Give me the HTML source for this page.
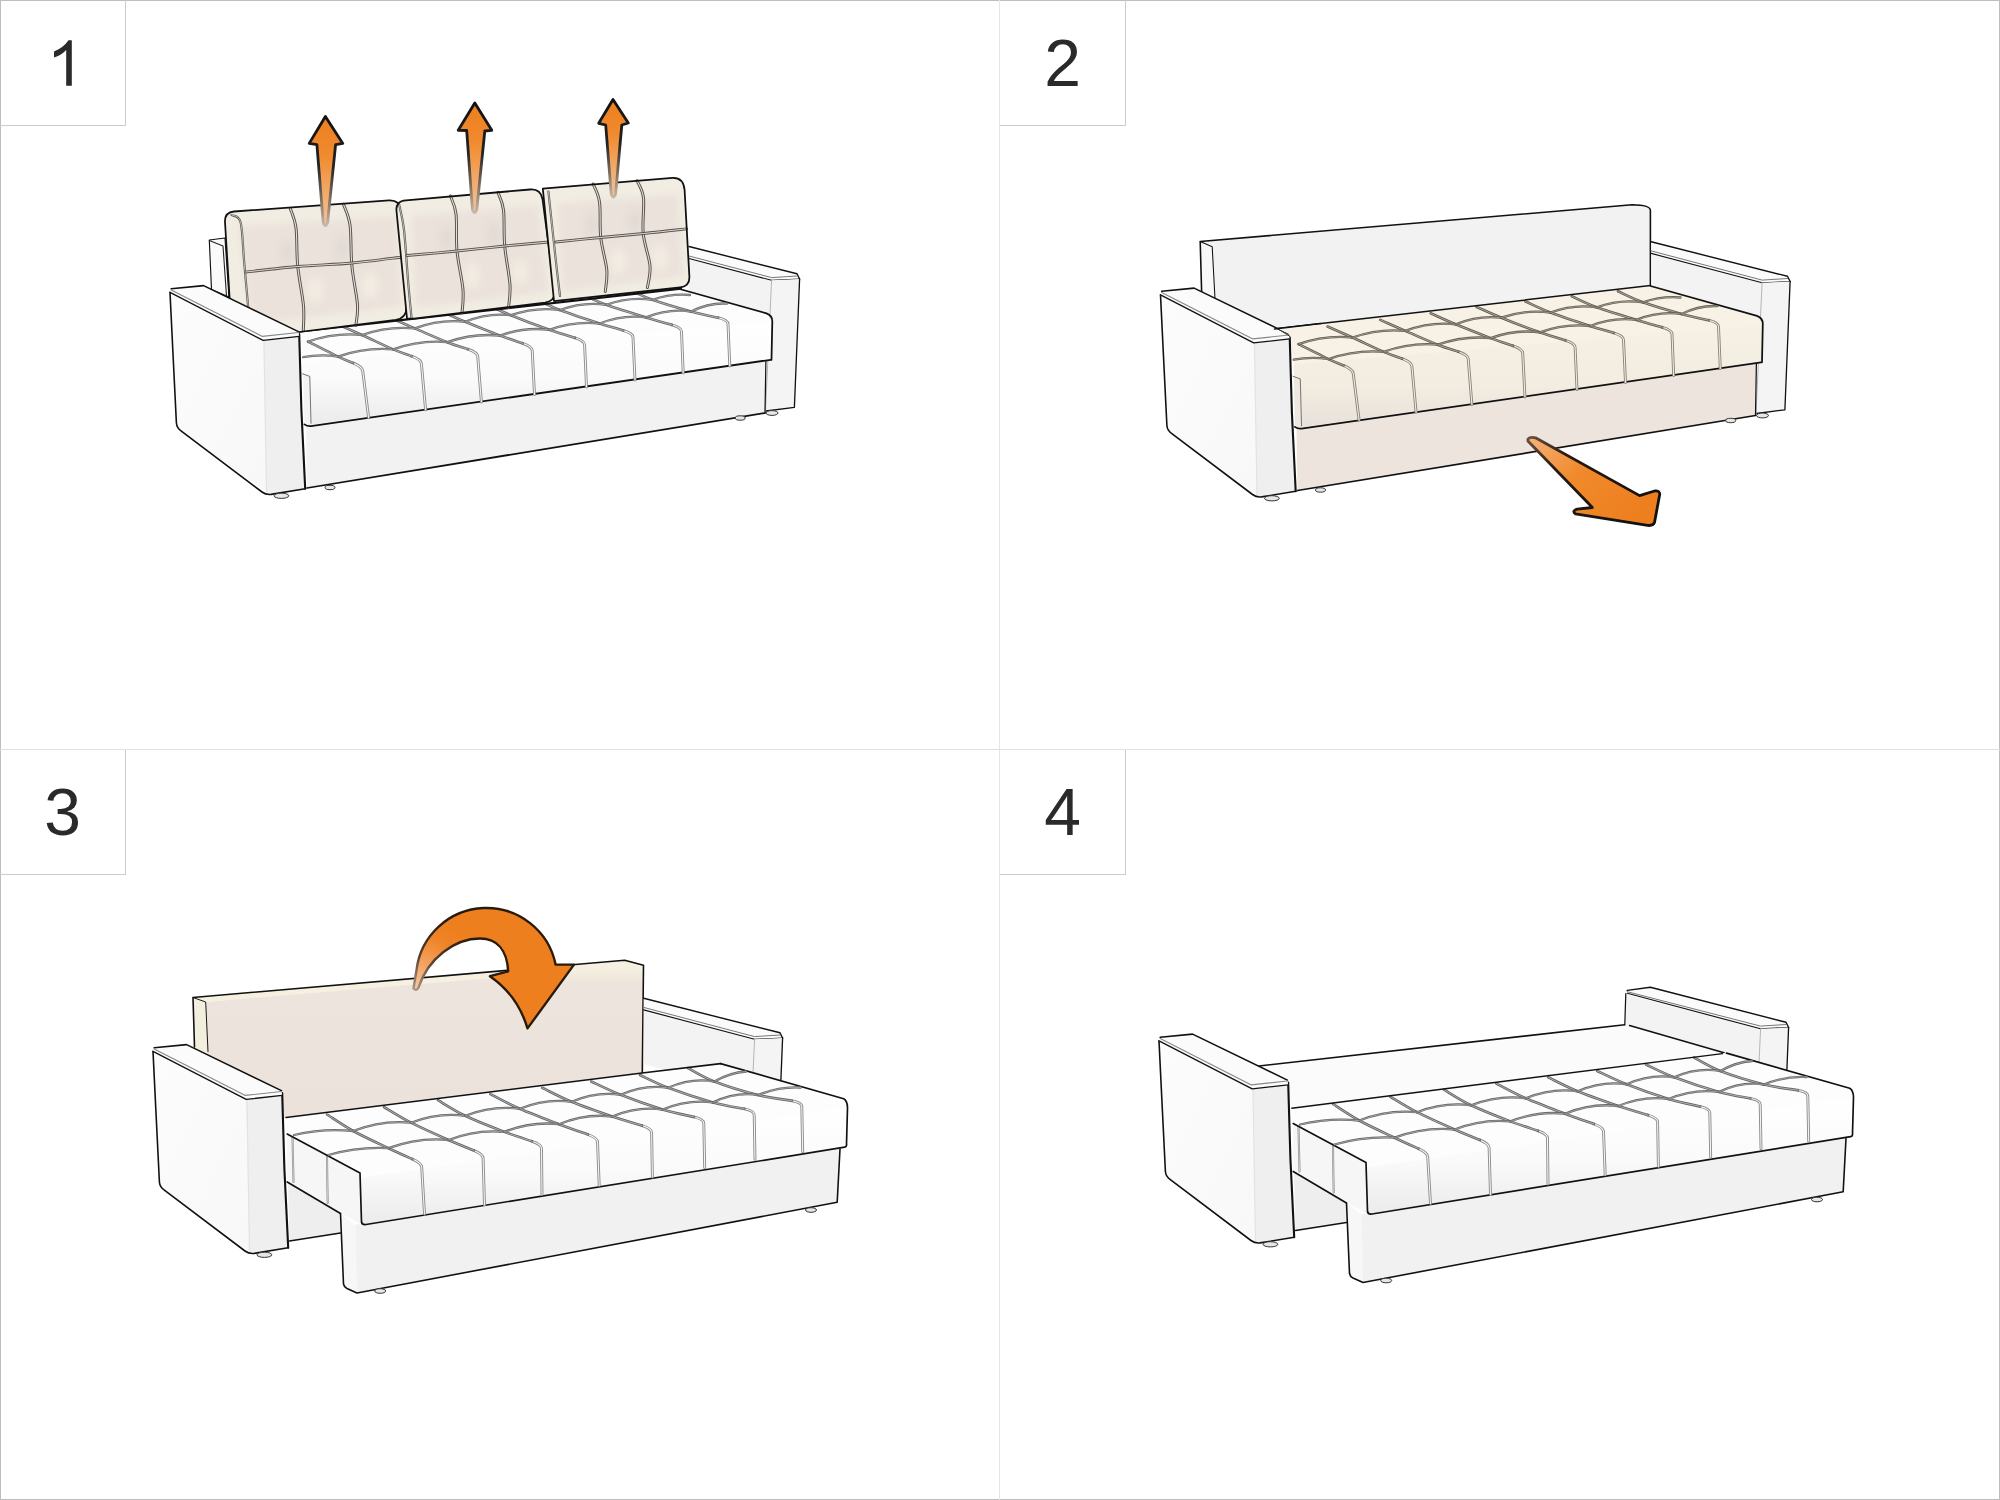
<!DOCTYPE html>
<html><head><meta charset="utf-8">
<style>
html,body{margin:0;padding:0;background:#fff;}
body{width:2000px;height:1500px;position:relative;overflow:hidden;font-family:"Liberation Sans",sans-serif;}
.num{position:absolute;width:125px;height:125px;font-size:66px;line-height:125px;text-align:center;color:#2a2a2a;}
svg{position:absolute;left:0;top:0;}
</style></head>
<body>
<svg width="2000" height="1500" viewBox="0 0 2000 1500">
<defs>
<linearGradient id="cush" x1="0" y1="0" x2="0" y2="1">
 <stop offset="0" stop-color="#f3f0e4"/><stop offset="0.2" stop-color="#f1ede2"/>
 <stop offset="0.3" stop-color="#ece4dd"/><stop offset="0.85" stop-color="#ebe3dc"/><stop offset="1" stop-color="#efe9df"/>
</linearGradient>
<filter id="blur3" x="-20%" y="-20%" width="140%" height="140%"><feGaussianBlur stdDeviation="3"/></filter>
<filter id="blur5" x="-50%" y="-50%" width="200%" height="200%"><feGaussianBlur stdDeviation="4"/></filter>
<linearGradient id="ga" x1="0" y1="0" x2="0" y2="1">
 <stop offset="0" stop-color="#ee7f1e"/><stop offset="0.35" stop-color="#f08a2e"/><stop offset="1" stop-color="#f6c49a"/>
</linearGradient>
<linearGradient id="gas" x1="0" y1="0" x2="0" y2="1">
 <stop offset="0" stop-color="#111"/><stop offset="0.45" stop-color="#222"/><stop offset="0.8" stop-color="#8a7a6a"/><stop offset="1" stop-color="#c8b8a8"/>
</linearGradient>
<linearGradient id="seatf" x1="0" y1="0" x2="0" y2="1">
 <stop offset="0" stop-color="#ffffff"/><stop offset="0.55" stop-color="#fafafa"/><stop offset="1" stop-color="#ebebeb"/>
</linearGradient>
<linearGradient id="seatc" x1="0" y1="0" x2="0" y2="1">
 <stop offset="0" stop-color="#f6f1e4"/><stop offset="0.6" stop-color="#f2ece1"/><stop offset="1" stop-color="#e8e1da"/>
</linearGradient>
<linearGradient id="backc" x1="0" y1="0" x2="0" y2="1">
 <stop offset="0" stop-color="#f7f3e0"/><stop offset="0.06" stop-color="#f4efe0"/><stop offset="0.14" stop-color="#ede5dd"/><stop offset="1" stop-color="#ebe2db"/>
</linearGradient>
<linearGradient id="armo" x1="0" y1="0" x2="1" y2="1">
 <stop offset="0" stop-color="#fcfcfc"/><stop offset="1" stop-color="#f8f8f8"/>
</linearGradient>
<linearGradient id="ga2" x1="0" y1="0" x2="1" y2="0.6">
 <stop offset="0" stop-color="#f4b27a"/><stop offset="0.45" stop-color="#f08a2c"/><stop offset="1" stop-color="#ee7f1e"/>
</linearGradient>
<linearGradient id="ga2s" x1="0" y1="0" x2="1" y2="0.6">
 <stop offset="0" stop-color="#6a5040"/><stop offset="0.3" stop-color="#2a1a10"/><stop offset="1" stop-color="#111"/>
</linearGradient>
<radialGradient id="ga3" gradientUnits="userSpaceOnUse" cx="414" cy="990" r="75">
 <stop offset="0" stop-color="#f6cba5"/><stop offset="0.35" stop-color="#f3a462"/><stop offset="0.75" stop-color="#ef8326"/><stop offset="1" stop-color="#ee7f1e"/>
</radialGradient>
<radialGradient id="ga3s" gradientUnits="userSpaceOnUse" cx="414" cy="990" r="75">
 <stop offset="0" stop-color="#b09888"/><stop offset="0.45" stop-color="#5a4030"/><stop offset="1" stop-color="#2a1a0a"/>
</radialGradient>
</defs>
<g fill="none" shape-rendering="crispEdges">
<rect x="0.5" y="0.5" width="1999" height="1499" stroke="#bdbdbd" stroke-width="1"/>
<line x1="999.5" y1="0" x2="999.5" y2="1500" stroke="#e6e6e6"/>
<line x1="0" y1="749.5" x2="2000" y2="749.5" stroke="#e0e0e0"/>
<path d="M125.5 0V125.5H0M1125.5 0V125.5H1000M125.5 750V874.5H0M1125.5 750V874.5H1000" stroke="#cccccc"/>
</g>
<polygon points="209.3,240.0 225.0,238.0 229.0,297.0 211.5,289.5" fill="#fafafa" stroke="#111" stroke-width="1.1440000000000001" stroke-linejoin="round" />
<path d="M209.3,240.5 L223.0,246.0 L226.5,296.0" fill="none" stroke="#222" stroke-width="1.1" stroke-linejoin="round" stroke-linecap="round" />
<polygon points="689.0,258.5 771.6,280.3 770.6,335.0 689.0,305.0" fill="#f3f3f3" />
<polygon points="689.0,246.5 797.0,273.8 799.6,279.0 771.6,280.3 689.0,258.5" fill="#fbfbfb" />
<path d="M689.0,246.5 L797.0,273.8 L799.6,279.0" fill="none" stroke="#111" stroke-width="1.4080000000000001" stroke-linejoin="round" stroke-linecap="round" />
<path d="M689.0,256.0 L771.6,277.6 L797.0,276.0" fill="none" stroke="#777" stroke-width="1.0" stroke-linejoin="round" stroke-linecap="round" />
<path d="M689.0,258.5 L771.6,280.3 L799.6,279.0" fill="none" stroke="#111" stroke-width="1.1440000000000001" stroke-linejoin="round" stroke-linecap="round" />
<polygon points="771.6,280.3 799.6,279.0 794.4,407.3 764.9,411.0" fill="#f4f4f4" />
<path d="M799.6,279.0 L794.4,407.3 L766.0,411.0" fill="none" stroke="#111" stroke-width="1.32" stroke-linejoin="round" stroke-linecap="round" />
<path d="M771.6,280.3 L765.5,411.0" fill="none" stroke="#b5b5b5" stroke-width="1.0" stroke-linejoin="round" stroke-linecap="round" />
<ellipse cx="772.0" cy="413.0" rx="6" ry="2.4" fill="#e6e6e6" stroke="#333" stroke-width="1"/>
<polygon points="306.0,425.6 765.9,360.8 765.0,413.0 307.0,488.0" fill="#f2f2f2" />
<path d="M307.0,488.0 L765.0,413.0" fill="none" stroke="#111" stroke-width="1.76" stroke-linejoin="round" stroke-linecap="round" />
<path d="M765.9,360.8 L765.0,413.0" fill="none" stroke="#111" stroke-width="1.232" stroke-linejoin="round" stroke-linecap="round" />
<ellipse cx="740.2" cy="418.0" rx="5" ry="2.2" fill="#e6e6e6" stroke="#333" stroke-width="1"/>
<ellipse cx="330.0" cy="487.5" rx="5" ry="2.2" fill="#e6e6e6" stroke="#333" stroke-width="1"/>
<polygon points="287.0,326.1 659.9,283.0 681.0,288.8 766.5,313.4 772.3,321.2 770.6,359.8 306.0,425.6 303.0,357.0 298.4,331.6" fill="#fdfdfd" />
<polygon points="303.0,362.0 771.5,322.0 770.6,359.8 306.0,425.6" fill="url(#seatf)" />
<polygon points="303.2,374.0 309.8,376.4 311.0,423.2 304.4,424.4" fill="#f3f3f3" />
<path d="M302.5,373.8 L309.8,376.4 L311.0,423.2" fill="none" stroke="#666" stroke-width="0.9" stroke-linejoin="round" stroke-linecap="round" />
<path d="M660.0,283.5 L766.5,313.4 Q772.3,315.5 772.3,321.2 L771.5,359.8" fill="none" stroke="#111" stroke-width="1.76" stroke-linejoin="round" stroke-linecap="round" />
<path d="M304.4,424.4 Q307.0,426.5 311.0,426.2 L770.6,359.8" fill="none" stroke="#111" stroke-width="1.76" stroke-linejoin="round" stroke-linecap="round" />
<path d="M353.0,362.9 Q362.2,366.8 362.7,370.8 L368.6,417.5" fill="none" stroke="#8c8c8c" stroke-width="2.9" stroke-linejoin="round" stroke-linecap="round" /><path d="M353.0,362.9 Q362.2,366.8 362.7,370.8 L368.6,417.5" fill="none" stroke="#f7f7f7" stroke-width="1.044" stroke-linejoin="round" stroke-linecap="round" /><path d="M308.0,341.6 C313.0,344.1 330.5,353.0 338.0,356.6 C345.5,360.2 350.5,361.9 353.0,362.9" fill="none" stroke="#676767" stroke-width="2.61" stroke-linejoin="round" stroke-linecap="round" /><path d="M308.0,341.6 C313.0,344.1 330.5,353.0 338.0,356.6 C345.5,360.2 350.5,361.9 353.0,362.9" fill="none" stroke="#f7f7f7" stroke-width="0.522" stroke-linejoin="round" stroke-linecap="round" />
<path d="M411.6,356.2 Q421.0,359.6 421.4,363.6 L425.6,409.8" fill="none" stroke="#8c8c8c" stroke-width="2.9" stroke-linejoin="round" stroke-linecap="round" /><path d="M411.6,356.2 Q421.0,359.6 421.4,363.6 L425.6,409.8" fill="none" stroke="#f7f7f7" stroke-width="1.044" stroke-linejoin="round" stroke-linecap="round" /><path d="M337.0,324.0 C341.2,325.8 352.6,330.8 362.0,335.0 C371.4,339.2 384.9,345.9 393.2,349.4 C401.5,352.9 408.5,355.0 411.6,356.2" fill="none" stroke="#676767" stroke-width="2.61" stroke-linejoin="round" stroke-linecap="round" /><path d="M337.0,324.0 C341.2,325.8 352.6,330.8 362.0,335.0 C371.4,339.2 384.9,345.9 393.2,349.4 C401.5,352.9 408.5,355.0 411.6,356.2" fill="none" stroke="#f7f7f7" stroke-width="0.522" stroke-linejoin="round" stroke-linecap="round" />
<path d="M467.9,349.2 Q477.4,352.4 477.7,356.4 L481.4,402.0" fill="none" stroke="#8c8c8c" stroke-width="2.9" stroke-linejoin="round" stroke-linecap="round" /><path d="M467.9,349.2 Q477.4,352.4 477.7,356.4 L481.4,402.0" fill="none" stroke="#f7f7f7" stroke-width="1.044" stroke-linejoin="round" stroke-linecap="round" /><path d="M389.8,317.4 C394.0,319.2 405.2,324.3 414.8,328.4 C424.4,332.5 438.3,338.7 447.2,342.2 C456.1,345.7 464.5,348.0 467.9,349.2" fill="none" stroke="#676767" stroke-width="2.61" stroke-linejoin="round" stroke-linecap="round" /><path d="M389.8,317.4 C394.0,319.2 405.2,324.3 414.8,328.4 C424.4,332.5 438.3,338.7 447.2,342.2 C456.1,345.7 464.5,348.0 467.9,349.2" fill="none" stroke="#f7f7f7" stroke-width="0.522" stroke-linejoin="round" stroke-linecap="round" />
<path d="M522.5,343.3 Q532.0,346.5 532.2,350.5 L534.5,394.5" fill="none" stroke="#8c8c8c" stroke-width="2.9" stroke-linejoin="round" stroke-linecap="round" /><path d="M522.5,343.3 Q532.0,346.5 532.2,350.5 L534.5,394.5" fill="none" stroke="#f7f7f7" stroke-width="1.044" stroke-linejoin="round" stroke-linecap="round" /><path d="M440.2,310.8 C444.4,312.6 455.2,317.7 465.2,321.8 C475.2,325.9 490.4,332.0 500.0,335.6 C509.6,339.2 518.8,342.0 522.5,343.3" fill="none" stroke="#676767" stroke-width="2.61" stroke-linejoin="round" stroke-linecap="round" /><path d="M440.2,310.8 C444.4,312.6 455.2,317.7 465.2,321.8 C475.2,325.9 490.4,332.0 500.0,335.6 C509.6,339.2 518.8,342.0 522.5,343.3" fill="none" stroke="#f7f7f7" stroke-width="0.522" stroke-linejoin="round" stroke-linecap="round" />
<path d="M574.9,337.8 Q584.4,340.8 584.6,344.8 L586.5,387.0" fill="none" stroke="#8c8c8c" stroke-width="2.9" stroke-linejoin="round" stroke-linecap="round" /><path d="M574.9,337.8 Q584.4,340.8 584.6,344.8 L586.5,387.0" fill="none" stroke="#f7f7f7" stroke-width="1.044" stroke-linejoin="round" stroke-linecap="round" /><path d="M485.8,304.2 C490.0,306.0 500.2,310.9 510.8,315.2 C521.4,319.5 538.6,326.0 549.3,329.8 C560.0,333.6 570.6,336.5 574.9,337.8" fill="none" stroke="#676767" stroke-width="2.61" stroke-linejoin="round" stroke-linecap="round" /><path d="M485.8,304.2 C490.0,306.0 500.2,310.9 510.8,315.2 C521.4,319.5 538.6,326.0 549.3,329.8 C560.0,333.6 570.6,336.5 574.9,337.8" fill="none" stroke="#f7f7f7" stroke-width="0.522" stroke-linejoin="round" stroke-linecap="round" />
<path d="M623.2,330.4 Q632.8,333.2 633.0,337.2 L635.0,380.0" fill="none" stroke="#8c8c8c" stroke-width="2.9" stroke-linejoin="round" stroke-linecap="round" /><path d="M623.2,330.4 Q632.8,333.2 633.0,337.2 L635.0,380.0" fill="none" stroke="#f7f7f7" stroke-width="1.044" stroke-linejoin="round" stroke-linecap="round" /><path d="M535.0,299.0 C539.2,300.8 549.2,305.9 560.0,310.0 C570.8,314.1 589.1,320.1 599.6,323.5 C610.1,326.9 619.3,329.2 623.2,330.4" fill="none" stroke="#676767" stroke-width="2.61" stroke-linejoin="round" stroke-linecap="round" /><path d="M535.0,299.0 C539.2,300.8 549.2,305.9 560.0,310.0 C570.8,314.1 589.1,320.1 599.6,323.5 C610.1,326.9 619.3,329.2 623.2,330.4" fill="none" stroke="#f7f7f7" stroke-width="0.522" stroke-linejoin="round" stroke-linecap="round" />
<path d="M671.7,324.8 Q681.3,327.5 681.5,331.5 L683.2,373.0" fill="none" stroke="#8c8c8c" stroke-width="2.9" stroke-linejoin="round" stroke-linecap="round" /><path d="M671.7,324.8 Q681.3,327.5 681.5,331.5 L683.2,373.0" fill="none" stroke="#f7f7f7" stroke-width="1.044" stroke-linejoin="round" stroke-linecap="round" /><path d="M581.2,293.8 C585.4,295.6 595.4,300.9 606.2,304.8 C617.0,308.7 634.9,314.1 645.8,317.4 C656.7,320.7 667.4,323.5 671.7,324.8" fill="none" stroke="#676767" stroke-width="2.61" stroke-linejoin="round" stroke-linecap="round" /><path d="M581.2,293.8 C585.4,295.6 595.4,300.9 606.2,304.8 C617.0,308.7 634.9,314.1 645.8,317.4 C656.7,320.7 667.4,323.5 671.7,324.8" fill="none" stroke="#f7f7f7" stroke-width="0.522" stroke-linejoin="round" stroke-linecap="round" />
<path d="M718.1,317.7 Q727.8,320.0 728.0,324.0 L729.8,366.0" fill="none" stroke="#8c8c8c" stroke-width="2.9" stroke-linejoin="round" stroke-linecap="round" /><path d="M718.1,317.7 Q727.8,320.0 728.0,324.0 L729.8,366.0" fill="none" stroke="#f7f7f7" stroke-width="1.044" stroke-linejoin="round" stroke-linecap="round" /><path d="M627.4,288.8 C631.6,290.6 641.8,296.0 652.4,299.8 C663.0,303.6 680.1,308.5 691.0,311.5 C701.9,314.5 713.5,316.7 718.1,317.7" fill="none" stroke="#676767" stroke-width="2.61" stroke-linejoin="round" stroke-linecap="round" /><path d="M627.4,288.8 C631.6,290.6 641.8,296.0 652.4,299.8 C663.0,303.6 680.1,308.5 691.0,311.5 C701.9,314.5 713.5,316.7 718.1,317.7" fill="none" stroke="#f7f7f7" stroke-width="0.522" stroke-linejoin="round" stroke-linecap="round" />
<path d="M338.0,356.6 Q365.6,347.0 393.2,349.4" fill="none" stroke="#676767" stroke-width="2.3" stroke-linejoin="round" stroke-linecap="round" /><path d="M338.0,356.6 Q365.6,347.0 393.2,349.4" fill="none" stroke="#f7f7f7" stroke-width="0.414" stroke-linejoin="round" stroke-linecap="round" />
<path d="M308.0,341.6 Q335.0,332.3 362.0,335.0" fill="none" stroke="#676767" stroke-width="2.3" stroke-linejoin="round" stroke-linecap="round" /><path d="M308.0,341.6 Q335.0,332.3 362.0,335.0" fill="none" stroke="#f7f7f7" stroke-width="0.414" stroke-linejoin="round" stroke-linecap="round" />
<path d="M393.2,349.4 Q420.2,339.8 447.2,342.2" fill="none" stroke="#676767" stroke-width="2.3" stroke-linejoin="round" stroke-linecap="round" /><path d="M393.2,349.4 Q420.2,339.8 447.2,342.2" fill="none" stroke="#f7f7f7" stroke-width="0.414" stroke-linejoin="round" stroke-linecap="round" />
<path d="M362.0,335.0 Q388.4,325.7 414.8,328.4" fill="none" stroke="#676767" stroke-width="2.3" stroke-linejoin="round" stroke-linecap="round" /><path d="M362.0,335.0 Q388.4,325.7 414.8,328.4" fill="none" stroke="#f7f7f7" stroke-width="0.414" stroke-linejoin="round" stroke-linecap="round" />
<path d="M447.2,342.2 Q473.6,332.9 500.0,335.6" fill="none" stroke="#676767" stroke-width="2.3" stroke-linejoin="round" stroke-linecap="round" /><path d="M447.2,342.2 Q473.6,332.9 500.0,335.6" fill="none" stroke="#f7f7f7" stroke-width="0.414" stroke-linejoin="round" stroke-linecap="round" />
<path d="M414.8,328.4 Q440.0,319.1 465.2,321.8" fill="none" stroke="#676767" stroke-width="2.3" stroke-linejoin="round" stroke-linecap="round" /><path d="M414.8,328.4 Q440.0,319.1 465.2,321.8" fill="none" stroke="#f7f7f7" stroke-width="0.414" stroke-linejoin="round" stroke-linecap="round" />
<path d="M500.0,335.6 Q524.6,326.7 549.3,329.8" fill="none" stroke="#676767" stroke-width="2.3" stroke-linejoin="round" stroke-linecap="round" /><path d="M500.0,335.6 Q524.6,326.7 549.3,329.8" fill="none" stroke="#f7f7f7" stroke-width="0.414" stroke-linejoin="round" stroke-linecap="round" />
<path d="M465.2,321.8 Q488.0,312.5 510.8,315.2" fill="none" stroke="#676767" stroke-width="2.3" stroke-linejoin="round" stroke-linecap="round" /><path d="M465.2,321.8 Q488.0,312.5 510.8,315.2" fill="none" stroke="#f7f7f7" stroke-width="0.414" stroke-linejoin="round" stroke-linecap="round" />
<path d="M549.3,329.8 Q574.5,320.6 599.6,323.5" fill="none" stroke="#676767" stroke-width="2.3" stroke-linejoin="round" stroke-linecap="round" /><path d="M549.3,329.8 Q574.5,320.6 599.6,323.5" fill="none" stroke="#f7f7f7" stroke-width="0.414" stroke-linejoin="round" stroke-linecap="round" />
<path d="M510.8,315.2 Q535.4,306.6 560.0,310.0" fill="none" stroke="#676767" stroke-width="2.3" stroke-linejoin="round" stroke-linecap="round" /><path d="M510.8,315.2 Q535.4,306.6 560.0,310.0" fill="none" stroke="#f7f7f7" stroke-width="0.414" stroke-linejoin="round" stroke-linecap="round" />
<path d="M599.6,323.5 Q622.7,314.4 645.8,317.4" fill="none" stroke="#676767" stroke-width="2.3" stroke-linejoin="round" stroke-linecap="round" /><path d="M599.6,323.5 Q622.7,314.4 645.8,317.4" fill="none" stroke="#f7f7f7" stroke-width="0.414" stroke-linejoin="round" stroke-linecap="round" />
<path d="M560.0,310.0 Q583.1,301.4 606.2,304.8" fill="none" stroke="#676767" stroke-width="2.3" stroke-linejoin="round" stroke-linecap="round" /><path d="M560.0,310.0 Q583.1,301.4 606.2,304.8" fill="none" stroke="#f7f7f7" stroke-width="0.414" stroke-linejoin="round" stroke-linecap="round" />
<path d="M645.8,317.4 Q668.4,308.4 691.0,311.5" fill="none" stroke="#676767" stroke-width="2.3" stroke-linejoin="round" stroke-linecap="round" /><path d="M645.8,317.4 Q668.4,308.4 691.0,311.5" fill="none" stroke="#f7f7f7" stroke-width="0.414" stroke-linejoin="round" stroke-linecap="round" />
<path d="M606.2,304.8 Q629.3,296.3 652.4,299.8" fill="none" stroke="#676767" stroke-width="2.3" stroke-linejoin="round" stroke-linecap="round" /><path d="M606.2,304.8 Q629.3,296.3 652.4,299.8" fill="none" stroke="#f7f7f7" stroke-width="0.414" stroke-linejoin="round" stroke-linecap="round" />
<path d="M303.2,357.2 Q320.6,353.9 338.0,356.6" fill="none" stroke="#676767" stroke-width="2.3" stroke-linejoin="round" stroke-linecap="round" /><path d="M303.2,357.2 Q320.6,353.9 338.0,356.6" fill="none" stroke="#f7f7f7" stroke-width="0.414" stroke-linejoin="round" stroke-linecap="round" />
<path d="M691.0,311.5 Q709.0,302.6 727.0,303.6" fill="none" stroke="#676767" stroke-width="2.3" stroke-linejoin="round" stroke-linecap="round" /><path d="M691.0,311.5 Q709.0,302.6 727.0,303.6" fill="none" stroke="#f7f7f7" stroke-width="0.414" stroke-linejoin="round" stroke-linecap="round" />
<path d="M652.4,299.8 Q671.2,293.4 690.0,295.0" fill="none" stroke="#676767" stroke-width="2.3" stroke-linejoin="round" stroke-linecap="round" /><path d="M652.4,299.8 Q671.2,293.4 690.0,295.0" fill="none" stroke="#f7f7f7" stroke-width="0.414" stroke-linejoin="round" stroke-linecap="round" />
<path d="M298.4,331.6 L681.0,288.8" fill="none" stroke="#111" stroke-width="2.112" stroke-linejoin="round" stroke-linecap="round" />
<clipPath id="clip_140352756517152"><path d="M229.6,298 L225,222 Q224.5,212.5 234,211.5 L389,200.3 Q399.5,199.8 401,210 L406.5,306 Q407,318 396,319.8 L299,332 L262,337 Z"/></clipPath>
<path d="M229.6,298 L225,222 Q224.5,212.5 234,211.5 L389,200.3 Q399.5,199.8 401,210 L406.5,306 Q407,318 396,319.8 L299,332 L262,337 Z" fill="#f1ede2" />
<g clip-path="url(#clip_140352756517152)">
<polygon points="238.0,227.0 397.0,216.0 401.0,306.0 252.0,324.0" fill="#ebe2dc" filter="url(#blur3)"/>
<ellipse cx="288" cy="252" rx="7" ry="12" fill="#d8d0cb" opacity="0.45" filter="url(#blur5)"/>
<ellipse cx="342" cy="248" rx="7" ry="12" fill="#d8d0cb" opacity="0.45" filter="url(#blur5)"/>
<ellipse cx="315" cy="290" rx="9" ry="14" fill="#f4f0e3" opacity="0.7" filter="url(#blur5)"/>
<ellipse cx="370" cy="286" rx="9" ry="14" fill="#f4f0e3" opacity="0.7" filter="url(#blur5)"/>
</g>
<path d="M231.5,215.0 C233.0,216.2 238.4,214.5 240.5,222.0 C242.6,229.5 242.8,246.2 244.0,260.0 C245.2,273.8 247.0,294.7 248.0,305.0 C249.0,315.3 249.7,319.2 250.0,322.0" fill="none" stroke="#555" stroke-width="2.2" stroke-linejoin="round" stroke-linecap="round" /><path d="M231.5,215.0 C233.0,216.2 238.4,214.5 240.5,222.0 C242.6,229.5 242.8,246.2 244.0,260.0 C245.2,273.8 247.0,294.7 248.0,305.0 C249.0,315.3 249.7,319.2 250.0,322.0" fill="none" stroke="#efe8dd" stroke-width="0.66" stroke-linejoin="round" stroke-linecap="round" />
<path d="M290.3,208.5 C291.2,211.8 294.8,218.4 296.0,228.0 C297.2,237.6 296.4,252.9 297.7,265.9 C298.9,278.9 302.6,295.2 303.5,306.0 C304.4,316.8 303.3,326.4 303.3,330.5" fill="none" stroke="#585450" stroke-width="3.0" stroke-linejoin="round" stroke-linecap="round" /><path d="M290.3,208.5 C291.2,211.8 294.8,218.4 296.0,228.0 C297.2,237.6 296.4,252.9 297.7,265.9 C298.9,278.9 302.6,295.2 303.5,306.0 C304.4,316.8 303.3,326.4 303.3,330.5" fill="none" stroke="#e9e2da" stroke-width="1.02" stroke-linejoin="round" stroke-linecap="round" />
<path d="M343.5,204.3 C344.6,207.8 348.6,214.7 350.0,225.0 C351.4,235.3 350.6,252.6 351.9,265.9 C353.1,279.2 356.9,295.1 357.5,305.0 C358.1,314.9 356.1,322.1 355.8,325.5" fill="none" stroke="#585450" stroke-width="3.0" stroke-linejoin="round" stroke-linecap="round" /><path d="M343.5,204.3 C344.6,207.8 348.6,214.7 350.0,225.0 C351.4,235.3 350.6,252.6 351.9,265.9 C353.1,279.2 356.9,295.1 357.5,305.0 C358.1,314.9 356.1,322.1 355.8,325.5" fill="none" stroke="#e9e2da" stroke-width="1.02" stroke-linejoin="round" stroke-linecap="round" />
<path d="M245.7,272.0 C254.4,271.1 280.0,268.0 297.7,266.5 C315.4,265.0 334.4,264.6 351.9,263.0 C369.4,261.4 394.1,258.0 402.5,257.0" fill="none" stroke="#585450" stroke-width="2.8" stroke-linejoin="round" stroke-linecap="round" /><path d="M245.7,272.0 C254.4,271.1 280.0,268.0 297.7,266.5 C315.4,265.0 334.4,264.6 351.9,263.0 C369.4,261.4 394.1,258.0 402.5,257.0" fill="none" stroke="#e9e2da" stroke-width="0.952" stroke-linejoin="round" stroke-linecap="round" />
<path d="M229.6,298 L225,222 Q224.5,212.5 234,211.5 L389,200.3 Q399.5,199.8 401,210 L406.5,306 Q407,318 396,319.8 L299,332 L262,337 Z" fill="none" stroke="#111" stroke-width="1.76" stroke-linejoin="round" stroke-linecap="round" />
<clipPath id="clip_140352748804720"><path d="M407,318.5 L396.5,211 Q395.5,201 406,200.3 L530,189.5 Q540.5,188.6 542.5,199 L554.5,290 Q556,301 545,302.6 L414,318.6 Z"/></clipPath>
<path d="M407,318.5 L396.5,211 Q395.5,201 406,200.3 L530,189.5 Q540.5,188.6 542.5,199 L554.5,290 Q556,301 545,302.6 L414,318.6 Z" fill="#f1ede2" />
<g clip-path="url(#clip_140352748804720)">
<polygon points="411.0,216.0 538.0,205.0 549.0,292.0 416.0,308.0" fill="#ebe2dc" filter="url(#blur3)"/>
<ellipse cx="447" cy="238" rx="7" ry="12" fill="#d8d0cb" opacity="0.45" filter="url(#blur5)"/>
<ellipse cx="494" cy="234" rx="7" ry="12" fill="#d8d0cb" opacity="0.45" filter="url(#blur5)"/>
<ellipse cx="472" cy="276" rx="9" ry="14" fill="#f4f0e3" opacity="0.7" filter="url(#blur5)"/>
<ellipse cx="520" cy="272" rx="9" ry="14" fill="#f4f0e3" opacity="0.7" filter="url(#blur5)"/>
</g>
<path d="M399.0,204.0 C399.8,208.3 402.5,217.3 404.0,230.0 C405.5,242.7 406.8,265.4 408.0,280.0 C409.2,294.6 410.9,311.4 411.5,317.7" fill="none" stroke="#555" stroke-width="2.2" stroke-linejoin="round" stroke-linecap="round" /><path d="M399.0,204.0 C399.8,208.3 402.5,217.3 404.0,230.0 C405.5,242.7 406.8,265.4 408.0,280.0 C409.2,294.6 410.9,311.4 411.5,317.7" fill="none" stroke="#efe8dd" stroke-width="0.66" stroke-linejoin="round" stroke-linecap="round" />
<path d="M450.5,196.0 C451.4,199.0 454.9,204.8 456.0,214.0 C457.1,223.2 455.8,238.3 457.0,251.0 C458.2,263.7 462.2,279.7 463.0,290.0 C463.8,300.3 462.2,309.2 462.0,313.0" fill="none" stroke="#585450" stroke-width="3.0" stroke-linejoin="round" stroke-linecap="round" /><path d="M450.5,196.0 C451.4,199.0 454.9,204.8 456.0,214.0 C457.1,223.2 455.8,238.3 457.0,251.0 C458.2,263.7 462.2,279.7 463.0,290.0 C463.8,300.3 462.2,309.2 462.0,313.0" fill="none" stroke="#e9e2da" stroke-width="1.02" stroke-linejoin="round" stroke-linecap="round" />
<path d="M498.0,192.5 C498.9,195.4 502.4,201.1 503.5,210.0 C504.6,218.9 503.6,233.5 504.7,246.0 C505.8,258.5 509.4,274.8 510.0,285.0 C510.6,295.2 508.8,303.8 508.5,307.5" fill="none" stroke="#585450" stroke-width="3.0" stroke-linejoin="round" stroke-linecap="round" /><path d="M498.0,192.5 C498.9,195.4 502.4,201.1 503.5,210.0 C504.6,218.9 503.6,233.5 504.7,246.0 C505.8,258.5 509.4,274.8 510.0,285.0 C510.6,295.2 508.8,303.8 508.5,307.5" fill="none" stroke="#e9e2da" stroke-width="1.02" stroke-linejoin="round" stroke-linecap="round" />
<path d="M407.0,255.5 C415.3,254.8 440.7,252.6 457.0,251.0 C473.3,249.4 488.8,247.6 504.7,246.0 C520.6,244.4 544.6,242.4 552.6,241.7" fill="none" stroke="#585450" stroke-width="2.8" stroke-linejoin="round" stroke-linecap="round" /><path d="M407.0,255.5 C415.3,254.8 440.7,252.6 457.0,251.0 C473.3,249.4 488.8,247.6 504.7,246.0 C520.6,244.4 544.6,242.4 552.6,241.7" fill="none" stroke="#e9e2da" stroke-width="0.952" stroke-linejoin="round" stroke-linecap="round" />
<path d="M407,318.5 L396.5,211 Q395.5,201 406,200.3 L530,189.5 Q540.5,188.6 542.5,199 L554.5,290 Q556,301 545,302.6 L414,318.6 Z" fill="none" stroke="#111" stroke-width="1.76" stroke-linejoin="round" stroke-linecap="round" />
<clipPath id="clip_140352750114624"><path d="M554,301 L542.8,188.7 L672.6,177.9 Q683.5,177.5 684.6,190 L689.4,277.4 Q689.5,286.5 680,287.5 Z"/></clipPath>
<path d="M554,301 L542.8,188.7 L672.6,177.9 Q683.5,177.5 684.6,190 L689.4,277.4 Q689.5,286.5 680,287.5 Z" fill="#f1ede2" />
<g clip-path="url(#clip_140352750114624)">
<polygon points="557.0,204.0 678.0,194.0 683.0,276.0 563.0,291.0" fill="#ebe2dc" filter="url(#blur3)"/>
<ellipse cx="592" cy="225" rx="7" ry="12" fill="#d8d0cb" opacity="0.45" filter="url(#blur5)"/>
<ellipse cx="635" cy="221" rx="7" ry="12" fill="#d8d0cb" opacity="0.45" filter="url(#blur5)"/>
<ellipse cx="618" cy="262" rx="9" ry="14" fill="#f4f0e3" opacity="0.7" filter="url(#blur5)"/>
<ellipse cx="660" cy="258" rx="9" ry="14" fill="#f4f0e3" opacity="0.7" filter="url(#blur5)"/>
</g>
<path d="M548.4,191.5 C549.0,197.1 550.7,213.2 552.0,225.0 C553.3,236.8 554.7,250.2 556.0,262.0 C557.3,273.8 559.3,290.3 560.0,296.0" fill="none" stroke="#555" stroke-width="2.2" stroke-linejoin="round" stroke-linecap="round" /><path d="M548.4,191.5 C549.0,197.1 550.7,213.2 552.0,225.0 C553.3,236.8 554.7,250.2 556.0,262.0 C557.3,273.8 559.3,290.3 560.0,296.0" fill="none" stroke="#efe8dd" stroke-width="0.66" stroke-linejoin="round" stroke-linecap="round" />
<path d="M593.2,184.0 C594.2,187.0 598.2,193.1 599.5,202.0 C600.8,210.9 599.5,225.9 600.7,237.2 C601.9,248.5 606.0,261.0 606.8,270.0 C607.6,279.0 605.5,287.8 605.3,291.4" fill="none" stroke="#585450" stroke-width="3.0" stroke-linejoin="round" stroke-linecap="round" /><path d="M593.2,184.0 C594.2,187.0 598.2,193.1 599.5,202.0 C600.8,210.9 599.5,225.9 600.7,237.2 C601.9,248.5 606.0,261.0 606.8,270.0 C607.6,279.0 605.5,287.8 605.3,291.4" fill="none" stroke="#e9e2da" stroke-width="1.02" stroke-linejoin="round" stroke-linecap="round" />
<path d="M637.1,180.7 C638.2,183.6 642.5,189.2 643.5,198.0 C644.5,206.8 642.1,222.2 643.2,233.5 C644.3,244.8 649.3,257.0 650.0,266.0 C650.7,275.0 647.8,284.0 647.4,287.6" fill="none" stroke="#585450" stroke-width="3.0" stroke-linejoin="round" stroke-linecap="round" /><path d="M637.1,180.7 C638.2,183.6 642.5,189.2 643.5,198.0 C644.5,206.8 642.1,222.2 643.2,233.5 C644.3,244.8 649.3,257.0 650.0,266.0 C650.7,275.0 647.8,284.0 647.4,287.6" fill="none" stroke="#e9e2da" stroke-width="1.02" stroke-linejoin="round" stroke-linecap="round" />
<path d="M556.0,242.0 C563.5,241.2 586.1,238.9 600.7,237.5 C615.3,236.1 629.2,234.9 643.5,233.5 C657.8,232.1 679.4,229.6 686.6,228.8" fill="none" stroke="#585450" stroke-width="2.8" stroke-linejoin="round" stroke-linecap="round" /><path d="M556.0,242.0 C563.5,241.2 586.1,238.9 600.7,237.5 C615.3,236.1 629.2,234.9 643.5,233.5 C657.8,232.1 679.4,229.6 686.6,228.8" fill="none" stroke="#e9e2da" stroke-width="0.952" stroke-linejoin="round" stroke-linecap="round" />
<path d="M554,301 L542.8,188.7 L672.6,177.9 Q683.5,177.5 684.6,190 L689.4,277.4 Q689.5,286.5 680,287.5 Z" fill="none" stroke="#111" stroke-width="1.76" stroke-linejoin="round" stroke-linecap="round" />
<polygon points="170.0,292.4 263.2,340.4 267.0,493.0 176.4,427.2" fill="url(#armo)" />
<polygon points="263.2,340.4 299.2,336.4 305.2,488.8 266.0,494.4" fill="#efefef" />
<path d="M264.0,341.0 L266.5,492.0" fill="none" stroke="#e2e2e2" stroke-width="1.0" stroke-linejoin="round" stroke-linecap="round" />
<path d="M170.0,292.4 L172.8,350.0 L176.4,423.0 Q176.8,428.0 181.0,430.8 L262.0,492.0 Q266.0,495.0 271.0,494.4 L305.2,488.8" fill="none" stroke="#111" stroke-width="1.584" stroke-linejoin="round" stroke-linecap="round" />
<path d="M299.2,334.0 L301.4,410.0 L305.2,488.8" fill="none" stroke="#111" stroke-width="2.112" stroke-linejoin="round" stroke-linecap="round" />
<polygon points="171.2,288.8 203.6,285.6 298.4,331.6 299.2,336.4 263.2,340.4 170.0,292.4" fill="#fbfbfb" />
<path d="M171.2,288.8 L203.6,285.6 L298.4,331.6" fill="none" stroke="#111" stroke-width="1.584" stroke-linejoin="round" stroke-linecap="round" />
<path d="M171.2,290.0 L262.4,336.4 L298.4,332.5" fill="none" stroke="#888" stroke-width="1.1" stroke-linejoin="round" stroke-linecap="round" />
<path d="M170.0,292.4 L263.2,340.4 L299.2,336.4" fill="none" stroke="#111" stroke-width="1.32" stroke-linejoin="round" stroke-linecap="round" />
<ellipse cx="281.4" cy="495.8" rx="7.4" ry="2.6" fill="#e6e6e6" stroke="#333" stroke-width="1"/>
<path d="M325.4,116.5 L342.8,143.4 L335.6,144.6 L327.6,222.5 Q325.4,228.5 323.2,222.5 L316.9,144.6 L309.2,143.4 Z" fill="url(#ga)" stroke="url(#gas)" stroke-width="2.8" stroke-linejoin="round"/>
<path d="M474.8,103.0 L491.8,130.3 L484.8,131.0 L476.8,209.5 Q474.6,215.5 472.4,209.5 L466.7,130.5 L458.2,130.3 Z" fill="url(#ga)" stroke="url(#gas)" stroke-width="2.8" stroke-linejoin="round"/>
<path d="M613.0,99.5 L628.3,123.0 L621.8,125.0 L615.6,194.0 Q613.4,200.0 611.2,194.0 L605.7,125.0 L598.7,123.3 Z" fill="url(#ga)" stroke="url(#gas)" stroke-width="2.8" stroke-linejoin="round"/>
<polygon points="1200.2,241.5 1632.0,204.8 1646.4,205.0 1650.4,209.2 1650.4,302.5 1215.2,347.5 1212.2,246.7" fill="#f2f2f2" />
<polygon points="1200.2,241.5 1212.2,246.7 1215.2,302.5 1201.7,294.5" fill="#f8f8f8" />
<path d="M1201.7,294.5 L1200.2,241.5 L1632.0,204.8 Q1650.4,205.0 1650.4,210.5 L1650.4,302.5" fill="none" stroke="#111" stroke-width="1.584" stroke-linejoin="round" stroke-linecap="round" />
<path d="M1200.2,241.5 L1212.2,246.7 L1215.2,302.5" fill="none" stroke="#111" stroke-width="1.056" stroke-linejoin="round" stroke-linecap="round" />
<polygon points="1651.2,253.4 1762.1,282.8 1761.1,337.5 1651.2,307.5" fill="#f3f3f3" />
<polygon points="1651.2,241.8 1787.5,276.3 1790.1,281.5 1762.1,282.8 1651.2,253.4" fill="#fbfbfb" />
<path d="M1651.2,241.8 L1787.5,276.3 L1790.1,281.5" fill="none" stroke="#111" stroke-width="1.4080000000000001" stroke-linejoin="round" stroke-linecap="round" />
<path d="M1651.2,250.9 L1762.1,280.1 L1787.5,278.5" fill="none" stroke="#777" stroke-width="1.0" stroke-linejoin="round" stroke-linecap="round" />
<path d="M1651.2,253.4 L1762.1,282.8 L1790.1,281.5" fill="none" stroke="#111" stroke-width="1.1440000000000001" stroke-linejoin="round" stroke-linecap="round" />
<polygon points="1762.1,282.8 1790.1,281.5 1784.9,409.8 1755.4,413.5" fill="#f4f4f4" />
<path d="M1790.1,281.5 L1784.9,409.8 L1756.5,413.5" fill="none" stroke="#111" stroke-width="1.32" stroke-linejoin="round" stroke-linecap="round" />
<path d="M1762.1,282.8 L1756.0,413.5" fill="none" stroke="#b5b5b5" stroke-width="1.0" stroke-linejoin="round" stroke-linecap="round" />
<ellipse cx="1762.5" cy="415.5" rx="6" ry="2.4" fill="#e6e6e6" stroke="#333" stroke-width="1"/>
<polygon points="1296.5,428.1 1756.4,363.3 1755.5,415.5 1297.5,490.5" fill="#ece4dd" />
<path d="M1297.5,490.5 L1755.5,415.5" fill="none" stroke="#111" stroke-width="1.76" stroke-linejoin="round" stroke-linecap="round" />
<path d="M1756.4,363.3 L1755.5,415.5" fill="none" stroke="#111" stroke-width="1.232" stroke-linejoin="round" stroke-linecap="round" />
<ellipse cx="1730.7" cy="420.5" rx="5" ry="2.2" fill="#e6e6e6" stroke="#333" stroke-width="1"/>
<ellipse cx="1320.5" cy="490.0" rx="5" ry="2.2" fill="#e6e6e6" stroke="#333" stroke-width="1"/>
<polygon points="1277.5,328.6 1650.4,285.5 1671.5,291.3 1757.0,315.9 1762.8,323.7 1761.1,362.3 1296.5,428.1 1293.5,359.5 1288.9,334.1" fill="#f7f2e5" />
<polygon points="1293.5,364.5 1762.0,324.5 1761.1,362.3 1296.5,428.1" fill="url(#seatc)" />
<polygon points="1293.7,376.5 1300.3,378.9 1301.5,425.7 1294.9,426.9" fill="#eee9e0" />
<path d="M1293.0,376.3 L1300.3,378.9 L1301.5,425.7" fill="none" stroke="#666" stroke-width="0.9" stroke-linejoin="round" stroke-linecap="round" />
<path d="M1650.5,286.0 L1757.0,315.9 Q1762.8,318.0 1762.8,323.7 L1762.0,362.3" fill="none" stroke="#111" stroke-width="1.76" stroke-linejoin="round" stroke-linecap="round" />
<path d="M1294.9,426.9 Q1297.5,429.0 1301.5,428.7 L1761.1,362.3" fill="none" stroke="#111" stroke-width="1.76" stroke-linejoin="round" stroke-linecap="round" />
<path d="M1343.5,365.4 Q1352.7,369.3 1353.2,373.3 L1359.1,420.0" fill="none" stroke="#8a847a" stroke-width="2.9" stroke-linejoin="round" stroke-linecap="round" /><path d="M1343.5,365.4 Q1352.7,369.3 1353.2,373.3 L1359.1,420.0" fill="none" stroke="#f4efe3" stroke-width="1.044" stroke-linejoin="round" stroke-linecap="round" /><path d="M1298.5,344.1 C1303.5,346.6 1321.0,355.5 1328.5,359.1 C1336.0,362.7 1341.0,364.4 1343.5,365.4" fill="none" stroke="#5f594f" stroke-width="2.61" stroke-linejoin="round" stroke-linecap="round" /><path d="M1298.5,344.1 C1303.5,346.6 1321.0,355.5 1328.5,359.1 C1336.0,362.7 1341.0,364.4 1343.5,365.4" fill="none" stroke="#f4efe3" stroke-width="0.522" stroke-linejoin="round" stroke-linecap="round" />
<path d="M1402.1,358.7 Q1411.5,362.1 1411.9,366.1 L1416.1,412.3" fill="none" stroke="#8a847a" stroke-width="2.9" stroke-linejoin="round" stroke-linecap="round" /><path d="M1402.1,358.7 Q1411.5,362.1 1411.9,366.1 L1416.1,412.3" fill="none" stroke="#f4efe3" stroke-width="1.044" stroke-linejoin="round" stroke-linecap="round" /><path d="M1327.5,326.5 C1331.7,328.3 1343.1,333.3 1352.5,337.5 C1361.9,341.7 1375.4,348.4 1383.7,351.9 C1392.0,355.4 1399.0,357.5 1402.1,358.7" fill="none" stroke="#5f594f" stroke-width="2.61" stroke-linejoin="round" stroke-linecap="round" /><path d="M1327.5,326.5 C1331.7,328.3 1343.1,333.3 1352.5,337.5 C1361.9,341.7 1375.4,348.4 1383.7,351.9 C1392.0,355.4 1399.0,357.5 1402.1,358.7" fill="none" stroke="#f4efe3" stroke-width="0.522" stroke-linejoin="round" stroke-linecap="round" />
<path d="M1458.4,351.7 Q1467.9,354.9 1468.2,358.9 L1471.9,404.5" fill="none" stroke="#8a847a" stroke-width="2.9" stroke-linejoin="round" stroke-linecap="round" /><path d="M1458.4,351.7 Q1467.9,354.9 1468.2,358.9 L1471.9,404.5" fill="none" stroke="#f4efe3" stroke-width="1.044" stroke-linejoin="round" stroke-linecap="round" /><path d="M1380.3,319.9 C1384.5,321.7 1395.7,326.8 1405.3,330.9 C1414.9,335.0 1428.8,341.2 1437.7,344.7 C1446.6,348.2 1455.0,350.5 1458.4,351.7" fill="none" stroke="#5f594f" stroke-width="2.61" stroke-linejoin="round" stroke-linecap="round" /><path d="M1380.3,319.9 C1384.5,321.7 1395.7,326.8 1405.3,330.9 C1414.9,335.0 1428.8,341.2 1437.7,344.7 C1446.6,348.2 1455.0,350.5 1458.4,351.7" fill="none" stroke="#f4efe3" stroke-width="0.522" stroke-linejoin="round" stroke-linecap="round" />
<path d="M1513.0,345.8 Q1522.5,349.0 1522.7,353.0 L1525.0,397.0" fill="none" stroke="#8a847a" stroke-width="2.9" stroke-linejoin="round" stroke-linecap="round" /><path d="M1513.0,345.8 Q1522.5,349.0 1522.7,353.0 L1525.0,397.0" fill="none" stroke="#f4efe3" stroke-width="1.044" stroke-linejoin="round" stroke-linecap="round" /><path d="M1430.7,313.3 C1434.9,315.1 1445.7,320.2 1455.7,324.3 C1465.7,328.4 1480.9,334.5 1490.5,338.1 C1500.1,341.7 1509.3,344.5 1513.0,345.8" fill="none" stroke="#5f594f" stroke-width="2.61" stroke-linejoin="round" stroke-linecap="round" /><path d="M1430.7,313.3 C1434.9,315.1 1445.7,320.2 1455.7,324.3 C1465.7,328.4 1480.9,334.5 1490.5,338.1 C1500.1,341.7 1509.3,344.5 1513.0,345.8" fill="none" stroke="#f4efe3" stroke-width="0.522" stroke-linejoin="round" stroke-linecap="round" />
<path d="M1565.4,340.3 Q1574.9,343.3 1575.1,347.3 L1577.0,389.5" fill="none" stroke="#8a847a" stroke-width="2.9" stroke-linejoin="round" stroke-linecap="round" /><path d="M1565.4,340.3 Q1574.9,343.3 1575.1,347.3 L1577.0,389.5" fill="none" stroke="#f4efe3" stroke-width="1.044" stroke-linejoin="round" stroke-linecap="round" /><path d="M1476.3,306.7 C1480.5,308.5 1490.7,313.4 1501.3,317.7 C1511.9,322.0 1529.1,328.5 1539.8,332.3 C1550.5,336.1 1561.1,339.0 1565.4,340.3" fill="none" stroke="#5f594f" stroke-width="2.61" stroke-linejoin="round" stroke-linecap="round" /><path d="M1476.3,306.7 C1480.5,308.5 1490.7,313.4 1501.3,317.7 C1511.9,322.0 1529.1,328.5 1539.8,332.3 C1550.5,336.1 1561.1,339.0 1565.4,340.3" fill="none" stroke="#f4efe3" stroke-width="0.522" stroke-linejoin="round" stroke-linecap="round" />
<path d="M1613.7,332.9 Q1623.3,335.7 1623.5,339.7 L1625.5,382.5" fill="none" stroke="#8a847a" stroke-width="2.9" stroke-linejoin="round" stroke-linecap="round" /><path d="M1613.7,332.9 Q1623.3,335.7 1623.5,339.7 L1625.5,382.5" fill="none" stroke="#f4efe3" stroke-width="1.044" stroke-linejoin="round" stroke-linecap="round" /><path d="M1525.5,301.5 C1529.7,303.3 1539.7,308.4 1550.5,312.5 C1561.3,316.6 1579.6,322.6 1590.1,326.0 C1600.6,329.4 1609.8,331.7 1613.7,332.9" fill="none" stroke="#5f594f" stroke-width="2.61" stroke-linejoin="round" stroke-linecap="round" /><path d="M1525.5,301.5 C1529.7,303.3 1539.7,308.4 1550.5,312.5 C1561.3,316.6 1579.6,322.6 1590.1,326.0 C1600.6,329.4 1609.8,331.7 1613.7,332.9" fill="none" stroke="#f4efe3" stroke-width="0.522" stroke-linejoin="round" stroke-linecap="round" />
<path d="M1662.2,327.3 Q1671.8,330.0 1672.0,334.0 L1673.7,375.5" fill="none" stroke="#8a847a" stroke-width="2.9" stroke-linejoin="round" stroke-linecap="round" /><path d="M1662.2,327.3 Q1671.8,330.0 1672.0,334.0 L1673.7,375.5" fill="none" stroke="#f4efe3" stroke-width="1.044" stroke-linejoin="round" stroke-linecap="round" /><path d="M1571.7,296.3 C1575.9,298.1 1585.9,303.4 1596.7,307.3 C1607.5,311.2 1625.4,316.6 1636.3,319.9 C1647.2,323.2 1657.9,326.0 1662.2,327.3" fill="none" stroke="#5f594f" stroke-width="2.61" stroke-linejoin="round" stroke-linecap="round" /><path d="M1571.7,296.3 C1575.9,298.1 1585.9,303.4 1596.7,307.3 C1607.5,311.2 1625.4,316.6 1636.3,319.9 C1647.2,323.2 1657.9,326.0 1662.2,327.3" fill="none" stroke="#f4efe3" stroke-width="0.522" stroke-linejoin="round" stroke-linecap="round" />
<path d="M1708.6,320.2 Q1718.3,322.5 1718.5,326.5 L1720.3,368.5" fill="none" stroke="#8a847a" stroke-width="2.9" stroke-linejoin="round" stroke-linecap="round" /><path d="M1708.6,320.2 Q1718.3,322.5 1718.5,326.5 L1720.3,368.5" fill="none" stroke="#f4efe3" stroke-width="1.044" stroke-linejoin="round" stroke-linecap="round" /><path d="M1617.9,291.3 C1622.1,293.1 1632.3,298.5 1642.9,302.3 C1653.5,306.1 1670.6,311.0 1681.5,314.0 C1692.4,317.0 1704.0,319.2 1708.6,320.2" fill="none" stroke="#5f594f" stroke-width="2.61" stroke-linejoin="round" stroke-linecap="round" /><path d="M1617.9,291.3 C1622.1,293.1 1632.3,298.5 1642.9,302.3 C1653.5,306.1 1670.6,311.0 1681.5,314.0 C1692.4,317.0 1704.0,319.2 1708.6,320.2" fill="none" stroke="#f4efe3" stroke-width="0.522" stroke-linejoin="round" stroke-linecap="round" />
<path d="M1328.5,359.1 Q1356.1,349.5 1383.7,351.9" fill="none" stroke="#5f594f" stroke-width="2.3" stroke-linejoin="round" stroke-linecap="round" /><path d="M1328.5,359.1 Q1356.1,349.5 1383.7,351.9" fill="none" stroke="#f4efe3" stroke-width="0.414" stroke-linejoin="round" stroke-linecap="round" />
<path d="M1298.5,344.1 Q1325.5,334.8 1352.5,337.5" fill="none" stroke="#5f594f" stroke-width="2.3" stroke-linejoin="round" stroke-linecap="round" /><path d="M1298.5,344.1 Q1325.5,334.8 1352.5,337.5" fill="none" stroke="#f4efe3" stroke-width="0.414" stroke-linejoin="round" stroke-linecap="round" />
<path d="M1383.7,351.9 Q1410.7,342.3 1437.7,344.7" fill="none" stroke="#5f594f" stroke-width="2.3" stroke-linejoin="round" stroke-linecap="round" /><path d="M1383.7,351.9 Q1410.7,342.3 1437.7,344.7" fill="none" stroke="#f4efe3" stroke-width="0.414" stroke-linejoin="round" stroke-linecap="round" />
<path d="M1352.5,337.5 Q1378.9,328.2 1405.3,330.9" fill="none" stroke="#5f594f" stroke-width="2.3" stroke-linejoin="round" stroke-linecap="round" /><path d="M1352.5,337.5 Q1378.9,328.2 1405.3,330.9" fill="none" stroke="#f4efe3" stroke-width="0.414" stroke-linejoin="round" stroke-linecap="round" />
<path d="M1437.7,344.7 Q1464.1,335.4 1490.5,338.1" fill="none" stroke="#5f594f" stroke-width="2.3" stroke-linejoin="round" stroke-linecap="round" /><path d="M1437.7,344.7 Q1464.1,335.4 1490.5,338.1" fill="none" stroke="#f4efe3" stroke-width="0.414" stroke-linejoin="round" stroke-linecap="round" />
<path d="M1405.3,330.9 Q1430.5,321.6 1455.7,324.3" fill="none" stroke="#5f594f" stroke-width="2.3" stroke-linejoin="round" stroke-linecap="round" /><path d="M1405.3,330.9 Q1430.5,321.6 1455.7,324.3" fill="none" stroke="#f4efe3" stroke-width="0.414" stroke-linejoin="round" stroke-linecap="round" />
<path d="M1490.5,338.1 Q1515.2,329.2 1539.8,332.3" fill="none" stroke="#5f594f" stroke-width="2.3" stroke-linejoin="round" stroke-linecap="round" /><path d="M1490.5,338.1 Q1515.2,329.2 1539.8,332.3" fill="none" stroke="#f4efe3" stroke-width="0.414" stroke-linejoin="round" stroke-linecap="round" />
<path d="M1455.7,324.3 Q1478.5,315.0 1501.3,317.7" fill="none" stroke="#5f594f" stroke-width="2.3" stroke-linejoin="round" stroke-linecap="round" /><path d="M1455.7,324.3 Q1478.5,315.0 1501.3,317.7" fill="none" stroke="#f4efe3" stroke-width="0.414" stroke-linejoin="round" stroke-linecap="round" />
<path d="M1539.8,332.3 Q1564.9,323.1 1590.1,326.0" fill="none" stroke="#5f594f" stroke-width="2.3" stroke-linejoin="round" stroke-linecap="round" /><path d="M1539.8,332.3 Q1564.9,323.1 1590.1,326.0" fill="none" stroke="#f4efe3" stroke-width="0.414" stroke-linejoin="round" stroke-linecap="round" />
<path d="M1501.3,317.7 Q1525.9,309.1 1550.5,312.5" fill="none" stroke="#5f594f" stroke-width="2.3" stroke-linejoin="round" stroke-linecap="round" /><path d="M1501.3,317.7 Q1525.9,309.1 1550.5,312.5" fill="none" stroke="#f4efe3" stroke-width="0.414" stroke-linejoin="round" stroke-linecap="round" />
<path d="M1590.1,326.0 Q1613.2,316.9 1636.3,319.9" fill="none" stroke="#5f594f" stroke-width="2.3" stroke-linejoin="round" stroke-linecap="round" /><path d="M1590.1,326.0 Q1613.2,316.9 1636.3,319.9" fill="none" stroke="#f4efe3" stroke-width="0.414" stroke-linejoin="round" stroke-linecap="round" />
<path d="M1550.5,312.5 Q1573.6,303.9 1596.7,307.3" fill="none" stroke="#5f594f" stroke-width="2.3" stroke-linejoin="round" stroke-linecap="round" /><path d="M1550.5,312.5 Q1573.6,303.9 1596.7,307.3" fill="none" stroke="#f4efe3" stroke-width="0.414" stroke-linejoin="round" stroke-linecap="round" />
<path d="M1636.3,319.9 Q1658.9,310.9 1681.5,314.0" fill="none" stroke="#5f594f" stroke-width="2.3" stroke-linejoin="round" stroke-linecap="round" /><path d="M1636.3,319.9 Q1658.9,310.9 1681.5,314.0" fill="none" stroke="#f4efe3" stroke-width="0.414" stroke-linejoin="round" stroke-linecap="round" />
<path d="M1596.7,307.3 Q1619.8,298.8 1642.9,302.3" fill="none" stroke="#5f594f" stroke-width="2.3" stroke-linejoin="round" stroke-linecap="round" /><path d="M1596.7,307.3 Q1619.8,298.8 1642.9,302.3" fill="none" stroke="#f4efe3" stroke-width="0.414" stroke-linejoin="round" stroke-linecap="round" />
<path d="M1293.7,359.7 Q1311.1,356.4 1328.5,359.1" fill="none" stroke="#5f594f" stroke-width="2.3" stroke-linejoin="round" stroke-linecap="round" /><path d="M1293.7,359.7 Q1311.1,356.4 1328.5,359.1" fill="none" stroke="#f4efe3" stroke-width="0.414" stroke-linejoin="round" stroke-linecap="round" />
<path d="M1681.5,314.0 Q1699.5,305.1 1717.5,306.1" fill="none" stroke="#5f594f" stroke-width="2.3" stroke-linejoin="round" stroke-linecap="round" /><path d="M1681.5,314.0 Q1699.5,305.1 1717.5,306.1" fill="none" stroke="#f4efe3" stroke-width="0.414" stroke-linejoin="round" stroke-linecap="round" />
<path d="M1642.9,302.3 Q1661.7,295.9 1680.5,297.5" fill="none" stroke="#5f594f" stroke-width="2.3" stroke-linejoin="round" stroke-linecap="round" /><path d="M1642.9,302.3 Q1661.7,295.9 1680.5,297.5" fill="none" stroke="#f4efe3" stroke-width="0.414" stroke-linejoin="round" stroke-linecap="round" />
<path d="M1277.5,328.6 L1650.4,285.5" fill="none" stroke="#111" stroke-width="1.496" stroke-linejoin="round" stroke-linecap="round" />
<polygon points="1160.5,294.9 1253.7,342.9 1257.5,495.5 1166.9,429.7" fill="url(#armo)" />
<polygon points="1253.7,342.9 1289.7,338.9 1295.7,491.3 1256.5,496.9" fill="#efefef" />
<path d="M1254.5,343.5 L1257.0,494.5" fill="none" stroke="#e2e2e2" stroke-width="1.0" stroke-linejoin="round" stroke-linecap="round" />
<path d="M1160.5,294.9 L1163.3,352.5 L1166.9,425.5 Q1167.3,430.5 1171.5,433.3 L1252.5,494.5 Q1256.5,497.5 1261.5,496.9 L1295.7,491.3" fill="none" stroke="#111" stroke-width="1.584" stroke-linejoin="round" stroke-linecap="round" />
<path d="M1289.7,336.5 L1291.9,412.5 L1295.7,491.3" fill="none" stroke="#111" stroke-width="2.112" stroke-linejoin="round" stroke-linecap="round" />
<polygon points="1161.7,291.3 1194.1,288.1 1288.9,334.1 1289.7,338.9 1253.7,342.9 1160.5,294.9" fill="#fbfbfb" />
<path d="M1161.7,291.3 L1194.1,288.1 L1288.9,334.1" fill="none" stroke="#111" stroke-width="1.584" stroke-linejoin="round" stroke-linecap="round" />
<path d="M1161.7,292.5 L1252.9,338.9 L1288.9,335.0" fill="none" stroke="#888" stroke-width="1.1" stroke-linejoin="round" stroke-linecap="round" />
<path d="M1160.5,294.9 L1253.7,342.9 L1289.7,338.9" fill="none" stroke="#111" stroke-width="1.32" stroke-linejoin="round" stroke-linecap="round" />
<ellipse cx="1271.9" cy="498.3" rx="7.4" ry="2.6" fill="#e6e6e6" stroke="#333" stroke-width="1"/>
<polygon points="1277.5,328.6 1288.9,334.1 1289.9,337.0 1320.5,324.5" fill="#f7f2e5" />
<path d="M1277.5,328.6 L1289.9,336.3" fill="none" stroke="#333" stroke-width="1.0" stroke-linejoin="round" stroke-linecap="round" />
<path d="M1274.5,328.9 L1320.5,323.5" fill="none" stroke="#111" stroke-width="1.496" stroke-linejoin="round" stroke-linecap="round" />
<path d="M1527.9,439.1 Q1530,436.5 1535.5,437.8 L1639.6,495.6 L1654.5,491 Q1660.5,490.5 1659.6,495 L1654.5,522.5 Q1653,526 1647.7,525.4 L1575.5,513.8 Q1571.5,511 1577.1,509.2 L1592.4,507.5 L1527.9,441 Z" fill="url(#ga2)" stroke="url(#ga2s)" stroke-width="2.8" stroke-linejoin="round"/>
<polygon points="193.0,997.5 205.7,1002.0 208.0,1060.0 194.5,1055.0" fill="#f3efdf" />
<polygon points="205.7,1002.0 624.7,960.2 643.5,965.0 643.0,968.0 642.1,1073.0 286.0,1118.0 208.0,1120.0" fill="url(#backc)" />
<polygon points="193.0,997.5 624.7,960.2 643.5,965.2 205.7,1002.0" fill="#f5f0e0" />
<path d="M194.5,1047 L193,997.5 L624.7,960.2 L643.5,965.2 L642.3,1073.5" fill="none" stroke="#111" stroke-width="1.584" stroke-linejoin="round" stroke-linecap="round" />
<path d="M193.0,997.5 L205.7,1002.0 L208.0,1051.5" fill="none" stroke="#111" stroke-width="0.9680000000000001" stroke-linejoin="round" stroke-linecap="round" />
<polygon points="643.7,1009.9 754.6,1039.3 753.6,1094.0 643.7,1064.0" fill="#f3f3f3" />
<polygon points="643.7,998.3 780.0,1032.8 782.6,1038.0 754.6,1039.3 643.7,1009.9" fill="#fbfbfb" />
<path d="M643.7,998.3 L780.0,1032.8 L782.6,1038.0" fill="none" stroke="#111" stroke-width="1.4080000000000001" stroke-linejoin="round" stroke-linecap="round" />
<path d="M643.7,1007.4 L754.6,1036.6 L780.0,1035.0" fill="none" stroke="#777" stroke-width="1.0" stroke-linejoin="round" stroke-linecap="round" />
<path d="M643.7,1009.9 L754.6,1039.3 L782.6,1038.0" fill="none" stroke="#111" stroke-width="1.1440000000000001" stroke-linejoin="round" stroke-linecap="round" />
<polygon points="754.6,1039.3 782.6,1038.0 777.4,1166.3 747.9,1170.0" fill="#f4f4f4" />
<path d="M782.6,1038.0 L777.4,1166.3 L749.0,1170.0" fill="none" stroke="#111" stroke-width="1.32" stroke-linejoin="round" stroke-linecap="round" />
<path d="M754.6,1039.3 L748.5,1170.0" fill="none" stroke="#b5b5b5" stroke-width="1.0" stroke-linejoin="round" stroke-linecap="round" />
<ellipse cx="755.0" cy="1172.0" rx="6" ry="2.4" fill="#e6e6e6" stroke="#333" stroke-width="1"/>
<polygon points="288.0,1183.5 340.5,1213.5 340.5,1233.0 289.5,1241.0" fill="#eeeeee" />
<path d="M289.5,1241.0 L340.5,1233.0" fill="none" stroke="#111" stroke-width="1.4080000000000001" stroke-linejoin="round" stroke-linecap="round" />
<polygon points="340.5,1213.5 355.5,1224.7 357.0,1293.0 343.5,1285.5" fill="#f7f7f7" />
<polygon points="355.5,1224.7 840.0,1149.0 837.2,1202.3 357.0,1293.0" fill="#f1f1f1" />
<path d="M340.5,1213.5 L343.5,1284 Q344,1287 347,1288.5 L357,1293 L837.2,1202.3 L840,1149" fill="none" stroke="#111" stroke-width="1.584" stroke-linejoin="round" stroke-linecap="round" />
<ellipse cx="380.2" cy="1291.0" rx="5.5" ry="2.3" fill="#e6e6e6" stroke="#333" stroke-width="1"/>
<ellipse cx="811.0" cy="1210.0" rx="5.5" ry="2.3" fill="#e6e6e6" stroke="#333" stroke-width="1"/>
<polygon points="286.0,1117.5 642.1,1073.0 720.5,1063.6 843.7,1098.7 847.5,1104.3 846.5,1146.3 361.5,1224.7 360.0,1173.0 287.2,1134.0" fill="#fdfdfd" />
<polygon points="360.0,1178.0 847.0,1108.0 846.5,1146.3 361.5,1224.7" fill="url(#seatf)" />
<polygon points="287.2,1134.0 360.0,1173.0 361.5,1224.7 287.2,1182.0" fill="#f6f6f6" />
<path d="M292.5,1137.0 C292.6,1140.8 292.8,1152.5 293.0,1160.0 C293.2,1167.5 293.4,1178.3 293.5,1182.0" fill="none" stroke="#888" stroke-width="2.0" stroke-linejoin="round" stroke-linecap="round" /><path d="M292.5,1137.0 C292.6,1140.8 292.8,1152.5 293.0,1160.0 C293.2,1167.5 293.4,1178.3 293.5,1182.0" fill="none" stroke="#f6f6f6" stroke-width="0.6" stroke-linejoin="round" stroke-linecap="round" />
<path d="M327.0,1155.0 C327.1,1159.2 327.2,1172.0 327.3,1180.0 C327.4,1188.0 327.6,1199.2 327.7,1203.0" fill="none" stroke="#888" stroke-width="2.0" stroke-linejoin="round" stroke-linecap="round" /><path d="M327.0,1155.0 C327.1,1159.2 327.2,1172.0 327.3,1180.0 C327.4,1188.0 327.6,1199.2 327.7,1203.0" fill="none" stroke="#f6f6f6" stroke-width="0.6" stroke-linejoin="round" stroke-linecap="round" />
<path d="M287.2,1134 L360,1173 L361.5,1222 Q362,1225 366,1224.5 L844.7,1147.2 Q847,1146.5 846.5,1144 L847.5,1108 Q847.5,1101 843.7,1098.7 L720.5,1063.6" fill="none" stroke="#111" stroke-width="1.672" stroke-linejoin="round" stroke-linecap="round" />
<path d="M287.2,1182.0 L340.5,1213.5" fill="none" stroke="#111" stroke-width="1.672" stroke-linejoin="round" stroke-linecap="round" />
<path d="M412.4,1159.1 Q421.5,1163.2 421.7,1167.2 L424.5,1214.0" fill="none" stroke="#8c8c8c" stroke-width="2.9" stroke-linejoin="round" stroke-linecap="round" /><path d="M412.4,1159.1 Q421.5,1163.2 421.7,1167.2 L424.5,1214.0" fill="none" stroke="#f7f7f7" stroke-width="1.044" stroke-linejoin="round" stroke-linecap="round" /><path d="M327.0,1114.5 C331.4,1117.2 342.9,1125.4 353.2,1131.0 C363.4,1136.6 378.6,1143.5 388.5,1148.2 C398.4,1152.9 408.4,1157.3 412.4,1159.1" fill="none" stroke="#636363" stroke-width="2.61" stroke-linejoin="round" stroke-linecap="round" /><path d="M327.0,1114.5 C331.4,1117.2 342.9,1125.4 353.2,1131.0 C363.4,1136.6 378.6,1143.5 388.5,1148.2 C398.4,1152.9 408.4,1157.3 412.4,1159.1" fill="none" stroke="#f7f7f7" stroke-width="0.522" stroke-linejoin="round" stroke-linecap="round" />
<path d="M473.8,1150.4 Q483.0,1154.2 483.1,1158.2 L484.5,1205.0" fill="none" stroke="#8c8c8c" stroke-width="2.9" stroke-linejoin="round" stroke-linecap="round" /><path d="M473.8,1150.4 Q483.0,1154.2 483.1,1158.2 L484.5,1205.0" fill="none" stroke="#f7f7f7" stroke-width="1.044" stroke-linejoin="round" stroke-linecap="round" /><path d="M384.0,1107.0 C388.5,1109.6 400.2,1117.2 411.0,1122.7 C421.8,1128.2 438.0,1135.4 448.5,1140.0 C459.0,1144.6 469.5,1148.7 473.8,1150.4" fill="none" stroke="#636363" stroke-width="2.61" stroke-linejoin="round" stroke-linecap="round" /><path d="M384.0,1107.0 C388.5,1109.6 400.2,1117.2 411.0,1122.7 C421.8,1128.2 438.0,1135.4 448.5,1140.0 C459.0,1144.6 469.5,1148.7 473.8,1150.4" fill="none" stroke="#f7f7f7" stroke-width="0.522" stroke-linejoin="round" stroke-linecap="round" />
<path d="M532.0,1141.3 Q541.5,1144.5 541.5,1148.5 L542.0,1194.5" fill="none" stroke="#8c8c8c" stroke-width="2.9" stroke-linejoin="round" stroke-linecap="round" /><path d="M532.0,1141.3 Q541.5,1144.5 541.5,1148.5 L542.0,1194.5" fill="none" stroke="#f7f7f7" stroke-width="1.044" stroke-linejoin="round" stroke-linecap="round" /><path d="M438.0,1100.2 C442.5,1102.8 454.1,1110.5 465.2,1115.8 C476.3,1121.1 493.3,1127.7 504.4,1131.9 C515.5,1136.1 527.4,1139.7 532.0,1141.3" fill="none" stroke="#636363" stroke-width="2.61" stroke-linejoin="round" stroke-linecap="round" /><path d="M438.0,1100.2 C442.5,1102.8 454.1,1110.5 465.2,1115.8 C476.3,1121.1 493.3,1127.7 504.4,1131.9 C515.5,1136.1 527.4,1139.7 532.0,1141.3" fill="none" stroke="#f7f7f7" stroke-width="0.522" stroke-linejoin="round" stroke-linecap="round" />
<path d="M587.9,1134.5 Q597.3,1137.9 597.5,1141.9 L599.2,1185.4" fill="none" stroke="#8c8c8c" stroke-width="2.9" stroke-linejoin="round" stroke-linecap="round" /><path d="M587.9,1134.5 Q597.3,1137.9 597.5,1141.9 L599.2,1185.4" fill="none" stroke="#f7f7f7" stroke-width="1.044" stroke-linejoin="round" stroke-linecap="round" /><path d="M490.4,1094.1 C495.3,1096.5 508.4,1103.8 519.8,1108.8 C531.2,1113.8 547.7,1119.9 559.0,1124.2 C570.3,1128.5 583.1,1132.8 587.9,1134.5" fill="none" stroke="#636363" stroke-width="2.61" stroke-linejoin="round" stroke-linecap="round" /><path d="M490.4,1094.1 C495.3,1096.5 508.4,1103.8 519.8,1108.8 C531.2,1113.8 547.7,1119.9 559.0,1124.2 C570.3,1128.5 583.1,1132.8 587.9,1134.5" fill="none" stroke="#f7f7f7" stroke-width="0.522" stroke-linejoin="round" stroke-linecap="round" />
<path d="M641.9,1125.6 Q651.5,1128.5 651.6,1132.5 L652.4,1177.0" fill="none" stroke="#8c8c8c" stroke-width="2.9" stroke-linejoin="round" stroke-linecap="round" /><path d="M641.9,1125.6 Q651.5,1128.5 651.6,1132.5 L652.4,1177.0" fill="none" stroke="#f7f7f7" stroke-width="1.044" stroke-linejoin="round" stroke-linecap="round" /><path d="M542.2,1087.8 C547.1,1090.1 559.9,1097.0 571.6,1101.8 C583.3,1106.6 600.5,1112.5 612.2,1116.5 C623.9,1120.5 637.0,1124.1 641.9,1125.6" fill="none" stroke="#636363" stroke-width="2.61" stroke-linejoin="round" stroke-linecap="round" /><path d="M542.2,1087.8 C547.1,1090.1 559.9,1097.0 571.6,1101.8 C583.3,1106.6 600.5,1112.5 612.2,1116.5 C623.9,1120.5 637.0,1124.1 641.9,1125.6" fill="none" stroke="#f7f7f7" stroke-width="0.522" stroke-linejoin="round" stroke-linecap="round" />
<path d="M694.0,1116.9 Q703.7,1119.2 703.8,1123.2 L704.7,1167.7" fill="none" stroke="#8c8c8c" stroke-width="2.9" stroke-linejoin="round" stroke-linecap="round" /><path d="M694.0,1116.9 Q703.7,1119.2 703.8,1123.2 L704.7,1167.7" fill="none" stroke="#f7f7f7" stroke-width="1.044" stroke-linejoin="round" stroke-linecap="round" /><path d="M591.2,1081.5 C596.1,1083.7 608.7,1090.1 620.6,1094.8 C632.5,1099.5 650.4,1105.8 662.6,1109.5 C674.8,1113.2 688.7,1115.7 694.0,1116.9" fill="none" stroke="#636363" stroke-width="2.61" stroke-linejoin="round" stroke-linecap="round" /><path d="M591.2,1081.5 C596.1,1083.7 608.7,1090.1 620.6,1094.8 C632.5,1099.5 650.4,1105.8 662.6,1109.5 C674.8,1113.2 688.7,1115.7 694.0,1116.9" fill="none" stroke="#f7f7f7" stroke-width="0.522" stroke-linejoin="round" stroke-linecap="round" />
<path d="M744.3,1108.8 Q754.1,1110.8 754.2,1114.8 L755.0,1159.3" fill="none" stroke="#8c8c8c" stroke-width="2.9" stroke-linejoin="round" stroke-linecap="round" /><path d="M744.3,1108.8 Q754.1,1110.8 754.2,1114.8 L755.0,1159.3" fill="none" stroke="#f7f7f7" stroke-width="1.044" stroke-linejoin="round" stroke-linecap="round" /><path d="M640.0,1075.0 C644.7,1077.1 656.0,1083.2 668.2,1087.8 C680.4,1092.4 700.3,1098.9 713.0,1102.4 C725.7,1105.9 739.1,1107.7 744.3,1108.8" fill="none" stroke="#636363" stroke-width="2.61" stroke-linejoin="round" stroke-linecap="round" /><path d="M640.0,1075.0 C644.7,1077.1 656.0,1083.2 668.2,1087.8 C680.4,1092.4 700.3,1098.9 713.0,1102.4 C725.7,1105.9 739.1,1107.7 744.3,1108.8" fill="none" stroke="#f7f7f7" stroke-width="0.522" stroke-linejoin="round" stroke-linecap="round" />
<path d="M791.8,1100.7 Q801.7,1102.4 801.8,1106.4 L802.7,1151.8" fill="none" stroke="#8c8c8c" stroke-width="2.9" stroke-linejoin="round" stroke-linecap="round" /><path d="M791.8,1100.7 Q801.7,1102.4 801.8,1106.4 L802.7,1151.8" fill="none" stroke="#f7f7f7" stroke-width="1.044" stroke-linejoin="round" stroke-linecap="round" /><path d="M688.0,1068.0 C692.4,1070.2 702.8,1077.0 714.4,1081.5 C726.0,1086.0 745.0,1091.8 757.9,1095.0 C770.8,1098.2 786.2,1099.8 791.8,1100.7" fill="none" stroke="#636363" stroke-width="2.61" stroke-linejoin="round" stroke-linecap="round" /><path d="M688.0,1068.0 C692.4,1070.2 702.8,1077.0 714.4,1081.5 C726.0,1086.0 745.0,1091.8 757.9,1095.0 C770.8,1098.2 786.2,1099.8 791.8,1100.7" fill="none" stroke="#f7f7f7" stroke-width="0.522" stroke-linejoin="round" stroke-linecap="round" />
<path d="M388.5,1148.2 Q418.5,1137.1 448.5,1140.0" fill="none" stroke="#636363" stroke-width="2.3" stroke-linejoin="round" stroke-linecap="round" /><path d="M388.5,1148.2 Q418.5,1137.1 448.5,1140.0" fill="none" stroke="#f7f7f7" stroke-width="0.414" stroke-linejoin="round" stroke-linecap="round" />
<path d="M353.2,1131.0 Q382.1,1119.8 411.0,1122.7" fill="none" stroke="#636363" stroke-width="2.3" stroke-linejoin="round" stroke-linecap="round" /><path d="M353.2,1131.0 Q382.1,1119.8 411.0,1122.7" fill="none" stroke="#f7f7f7" stroke-width="0.414" stroke-linejoin="round" stroke-linecap="round" />
<path d="M448.5,1140.0 Q476.4,1129.0 504.4,1131.9" fill="none" stroke="#636363" stroke-width="2.3" stroke-linejoin="round" stroke-linecap="round" /><path d="M448.5,1140.0 Q476.4,1129.0 504.4,1131.9" fill="none" stroke="#f7f7f7" stroke-width="0.414" stroke-linejoin="round" stroke-linecap="round" />
<path d="M411.0,1122.7 Q438.1,1112.2 465.2,1115.8" fill="none" stroke="#636363" stroke-width="2.3" stroke-linejoin="round" stroke-linecap="round" /><path d="M411.0,1122.7 Q438.1,1112.2 465.2,1115.8" fill="none" stroke="#f7f7f7" stroke-width="0.414" stroke-linejoin="round" stroke-linecap="round" />
<path d="M504.4,1131.9 Q531.7,1121.1 559.0,1124.2" fill="none" stroke="#636363" stroke-width="2.3" stroke-linejoin="round" stroke-linecap="round" /><path d="M504.4,1131.9 Q531.7,1121.1 559.0,1124.2" fill="none" stroke="#f7f7f7" stroke-width="0.414" stroke-linejoin="round" stroke-linecap="round" />
<path d="M465.2,1115.8 Q492.5,1105.3 519.8,1108.8" fill="none" stroke="#636363" stroke-width="2.3" stroke-linejoin="round" stroke-linecap="round" /><path d="M465.2,1115.8 Q492.5,1105.3 519.8,1108.8" fill="none" stroke="#f7f7f7" stroke-width="0.414" stroke-linejoin="round" stroke-linecap="round" />
<path d="M559.0,1124.2 Q585.6,1113.3 612.2,1116.5" fill="none" stroke="#636363" stroke-width="2.3" stroke-linejoin="round" stroke-linecap="round" /><path d="M559.0,1124.2 Q585.6,1113.3 612.2,1116.5" fill="none" stroke="#f7f7f7" stroke-width="0.414" stroke-linejoin="round" stroke-linecap="round" />
<path d="M519.8,1108.8 Q545.7,1098.3 571.6,1101.8" fill="none" stroke="#636363" stroke-width="2.3" stroke-linejoin="round" stroke-linecap="round" /><path d="M519.8,1108.8 Q545.7,1098.3 571.6,1101.8" fill="none" stroke="#f7f7f7" stroke-width="0.414" stroke-linejoin="round" stroke-linecap="round" />
<path d="M612.2,1116.5 Q637.4,1106.0 662.6,1109.5" fill="none" stroke="#636363" stroke-width="2.3" stroke-linejoin="round" stroke-linecap="round" /><path d="M612.2,1116.5 Q637.4,1106.0 662.6,1109.5" fill="none" stroke="#f7f7f7" stroke-width="0.414" stroke-linejoin="round" stroke-linecap="round" />
<path d="M571.6,1101.8 Q596.1,1091.3 620.6,1094.8" fill="none" stroke="#636363" stroke-width="2.3" stroke-linejoin="round" stroke-linecap="round" /><path d="M571.6,1101.8 Q596.1,1091.3 620.6,1094.8" fill="none" stroke="#f7f7f7" stroke-width="0.414" stroke-linejoin="round" stroke-linecap="round" />
<path d="M662.6,1109.5 Q687.8,1099.0 713.0,1102.4" fill="none" stroke="#636363" stroke-width="2.3" stroke-linejoin="round" stroke-linecap="round" /><path d="M662.6,1109.5 Q687.8,1099.0 713.0,1102.4" fill="none" stroke="#f7f7f7" stroke-width="0.414" stroke-linejoin="round" stroke-linecap="round" />
<path d="M620.6,1094.8 Q644.4,1084.3 668.2,1087.8" fill="none" stroke="#636363" stroke-width="2.3" stroke-linejoin="round" stroke-linecap="round" /><path d="M620.6,1094.8 Q644.4,1084.3 668.2,1087.8" fill="none" stroke="#f7f7f7" stroke-width="0.414" stroke-linejoin="round" stroke-linecap="round" />
<path d="M713.0,1102.4 Q735.5,1091.7 757.9,1095.0" fill="none" stroke="#636363" stroke-width="2.3" stroke-linejoin="round" stroke-linecap="round" /><path d="M713.0,1102.4 Q735.5,1091.7 757.9,1095.0" fill="none" stroke="#f7f7f7" stroke-width="0.414" stroke-linejoin="round" stroke-linecap="round" />
<path d="M668.2,1087.8 Q691.3,1077.7 714.4,1081.5" fill="none" stroke="#636363" stroke-width="2.3" stroke-linejoin="round" stroke-linecap="round" /><path d="M668.2,1087.8 Q691.3,1077.7 714.4,1081.5" fill="none" stroke="#f7f7f7" stroke-width="0.414" stroke-linejoin="round" stroke-linecap="round" />
<path d="M328.5,1155.0 Q358.5,1146.6 388.5,1148.2" fill="none" stroke="#636363" stroke-width="2.3" stroke-linejoin="round" stroke-linecap="round" /><path d="M328.5,1155.0 Q358.5,1146.6 388.5,1148.2" fill="none" stroke="#f7f7f7" stroke-width="0.414" stroke-linejoin="round" stroke-linecap="round" />
<path d="M294.0,1135.0 Q323.6,1128.0 353.2,1131.0" fill="none" stroke="#636363" stroke-width="2.3" stroke-linejoin="round" stroke-linecap="round" /><path d="M294.0,1135.0 Q323.6,1128.0 353.2,1131.0" fill="none" stroke="#f7f7f7" stroke-width="0.414" stroke-linejoin="round" stroke-linecap="round" />
<path d="M757.9,1095.0 Q779.3,1086.2 800.8,1087.5" fill="none" stroke="#636363" stroke-width="2.3" stroke-linejoin="round" stroke-linecap="round" /><path d="M757.9,1095.0 Q779.3,1086.2 800.8,1087.5" fill="none" stroke="#f7f7f7" stroke-width="0.414" stroke-linejoin="round" stroke-linecap="round" />
<path d="M714.4,1081.5 Q730.2,1072.5 746.0,1071.5" fill="none" stroke="#636363" stroke-width="2.3" stroke-linejoin="round" stroke-linecap="round" /><path d="M714.4,1081.5 Q730.2,1072.5 746.0,1071.5" fill="none" stroke="#f7f7f7" stroke-width="0.414" stroke-linejoin="round" stroke-linecap="round" />
<path d="M286.0,1117.5 L642.1,1073.0 L720.5,1063.6" fill="none" stroke="#111" stroke-width="1.584" stroke-linejoin="round" stroke-linecap="round" />
<polygon points="153.0,1051.4 246.2,1099.4 250.0,1252.0 159.4,1186.2" fill="url(#armo)" />
<polygon points="246.2,1099.4 282.2,1095.4 288.2,1247.8 249.0,1253.4" fill="#efefef" />
<path d="M247.0,1100.0 L249.5,1251.0" fill="none" stroke="#e2e2e2" stroke-width="1.0" stroke-linejoin="round" stroke-linecap="round" />
<path d="M153.0,1051.4 L155.8,1109.0 L159.4,1182.0 Q159.8,1187.0 164.0,1189.8 L245.0,1251.0 Q249.0,1254.0 254.0,1253.4 L288.2,1247.8" fill="none" stroke="#111" stroke-width="1.584" stroke-linejoin="round" stroke-linecap="round" />
<path d="M282.2,1093.0 L284.4,1169.0 L288.2,1247.8" fill="none" stroke="#111" stroke-width="2.112" stroke-linejoin="round" stroke-linecap="round" />
<polygon points="154.2,1047.8 186.6,1044.6 281.4,1090.6 282.2,1095.4 246.2,1099.4 153.0,1051.4" fill="#fbfbfb" />
<path d="M154.2,1047.8 L186.6,1044.6 L281.4,1090.6" fill="none" stroke="#111" stroke-width="1.584" stroke-linejoin="round" stroke-linecap="round" />
<path d="M154.2,1049.0 L245.4,1095.4 L281.4,1091.5" fill="none" stroke="#888" stroke-width="1.1" stroke-linejoin="round" stroke-linecap="round" />
<path d="M153.0,1051.4 L246.2,1099.4 L282.2,1095.4" fill="none" stroke="#111" stroke-width="1.32" stroke-linejoin="round" stroke-linecap="round" />
<ellipse cx="264.4" cy="1254.8" rx="7.4" ry="2.6" fill="#e6e6e6" stroke="#333" stroke-width="1"/>
<path d="M413.5,988.5 L416.5,970 A70.5,70.5 0 0 1 555.6,964.6 L574,964.6 L527.5,1028.4 C522,1010 510,990 489.9,976.2 L508.2,971.3 C507,950 497,938.5 480,938.5 C455,938.5 428,958 418.4,987.8 Q416.5,991.5 413.5,988.5 Z" fill="url(#ga3)" stroke="url(#ga3s)" stroke-width="2.4" stroke-linejoin="round"/>
<polygon points="1258.8,1066.0 1624.8,1024.8 1724.0,1052.8 1291.8,1108.2" fill="#fbfbfb" />
<path d="M1258.8,1066.0 L1624.8,1024.8" fill="none" stroke="#111" stroke-width="1.584" stroke-linejoin="round" stroke-linecap="round" />
<polygon points="1625.6,994.4 1760.6,1028.8 1759.6,1083.5 1624.8,1068.5" fill="#f3f3f3" />
<polygon points="1627.2,990.4 1650.4,987.2 1786.0,1022.3 1788.6,1027.5 1760.6,1028.8 1627.2,993.3" fill="#fbfbfb" />
<path d="M1627.2,990.4 L1650.4,987.2 L1786.0,1022.3 L1788.6,1027.5" fill="none" stroke="#111" stroke-width="1.4080000000000001" stroke-linejoin="round" stroke-linecap="round" />
<path d="M1627.2,991.7 L1760.6,1026.1 L1786.0,1024.5" fill="none" stroke="#777" stroke-width="1.0" stroke-linejoin="round" stroke-linecap="round" />
<path d="M1627.2,993.3 L1760.6,1028.8 L1788.6,1027.5" fill="none" stroke="#111" stroke-width="1.1440000000000001" stroke-linejoin="round" stroke-linecap="round" />
<path d="M1625.8,993.5 L1624.8,1024.8" fill="none" stroke="#111" stroke-width="1.232" stroke-linejoin="round" stroke-linecap="round" />
<polygon points="1760.6,1028.8 1788.6,1027.5 1783.4,1155.8 1753.9,1159.5" fill="#f4f4f4" />
<path d="M1788.6,1027.5 L1783.4,1155.8 L1755.0,1159.5" fill="none" stroke="#111" stroke-width="1.32" stroke-linejoin="round" stroke-linecap="round" />
<path d="M1760.6,1028.8 L1754.5,1159.5" fill="none" stroke="#b5b5b5" stroke-width="1.0" stroke-linejoin="round" stroke-linecap="round" />
<ellipse cx="1761.0" cy="1161.5" rx="6" ry="2.4" fill="#e6e6e6" stroke="#333" stroke-width="1"/>
<polygon points="1629.6,1025.6 1724.0,1052.8 1291.8,1108.2" fill="#fbfbfb" />
<path d="M1629.6,1025.6 L1724.0,1052.8" fill="none" stroke="#111" stroke-width="1.584" stroke-linejoin="round" stroke-linecap="round" />
<polygon points="1294.0,1173.0 1346.5,1203.0 1346.5,1222.5 1295.5,1230.5" fill="#eeeeee" />
<path d="M1295.5,1230.5 L1346.5,1222.5" fill="none" stroke="#111" stroke-width="1.4080000000000001" stroke-linejoin="round" stroke-linecap="round" />
<polygon points="1346.5,1203.0 1361.5,1214.2 1363.0,1282.5 1349.5,1275.0" fill="#f7f7f7" />
<polygon points="1361.5,1214.2 1846.0,1138.5 1843.2,1191.8 1363.0,1282.5" fill="#f1f1f1" />
<path d="M1346.5,1203.0 L1349.5,1273.5 Q1350.0,1276.5 1353.0,1278.0 L1363.0,1282.5 L1843.2,1191.8 L1846.0,1138.5" fill="none" stroke="#111" stroke-width="1.584" stroke-linejoin="round" stroke-linecap="round" />
<ellipse cx="1386.2" cy="1280.5" rx="5.5" ry="2.3" fill="#e6e6e6" stroke="#333" stroke-width="1"/>
<ellipse cx="1817.0" cy="1199.5" rx="5.5" ry="2.3" fill="#e6e6e6" stroke="#333" stroke-width="1"/>
<polygon points="1292.0,1107.0 1648.1,1062.5 1726.5,1053.1 1849.7,1088.2 1853.5,1093.8 1852.5,1135.8 1367.5,1214.2 1366.0,1162.5 1293.2,1123.5" fill="#fdfdfd" />
<polygon points="1366.0,1167.5 1853.0,1097.5 1852.5,1135.8 1367.5,1214.2" fill="url(#seatf)" />
<polygon points="1293.2,1123.5 1366.0,1162.5 1367.5,1214.2 1293.2,1171.5" fill="#f6f6f6" />
<path d="M1298.5,1126.5 C1298.6,1130.3 1298.8,1142.0 1299.0,1149.5 C1299.2,1157.0 1299.4,1167.8 1299.5,1171.5" fill="none" stroke="#888" stroke-width="2.0" stroke-linejoin="round" stroke-linecap="round" /><path d="M1298.5,1126.5 C1298.6,1130.3 1298.8,1142.0 1299.0,1149.5 C1299.2,1157.0 1299.4,1167.8 1299.5,1171.5" fill="none" stroke="#f6f6f6" stroke-width="0.6" stroke-linejoin="round" stroke-linecap="round" />
<path d="M1333.0,1144.5 C1333.0,1148.7 1333.2,1161.5 1333.3,1169.5 C1333.4,1177.5 1333.6,1188.7 1333.7,1192.5" fill="none" stroke="#888" stroke-width="2.0" stroke-linejoin="round" stroke-linecap="round" /><path d="M1333.0,1144.5 C1333.0,1148.7 1333.2,1161.5 1333.3,1169.5 C1333.4,1177.5 1333.6,1188.7 1333.7,1192.5" fill="none" stroke="#f6f6f6" stroke-width="0.6" stroke-linejoin="round" stroke-linecap="round" />
<path d="M1293.2,1123.5 L1366.0,1162.5 L1367.5,1211.5 Q1368.0,1214.5 1372.0,1214.0 L1850.7,1136.7 Q1853.0,1136.0 1852.5,1133.5 L1853.5,1097.5 Q1853.5,1090.5 1849.7,1088.2 L1726.5,1053.1" fill="none" stroke="#111" stroke-width="1.672" stroke-linejoin="round" stroke-linecap="round" />
<path d="M1293.2,1171.5 L1346.5,1203.0" fill="none" stroke="#111" stroke-width="1.672" stroke-linejoin="round" stroke-linecap="round" />
<path d="M1418.4,1148.6 Q1427.5,1152.7 1427.7,1156.7 L1430.5,1203.5" fill="none" stroke="#8c8c8c" stroke-width="2.9" stroke-linejoin="round" stroke-linecap="round" /><path d="M1418.4,1148.6 Q1427.5,1152.7 1427.7,1156.7 L1430.5,1203.5" fill="none" stroke="#f7f7f7" stroke-width="1.044" stroke-linejoin="round" stroke-linecap="round" /><path d="M1333.0,1104.0 C1337.4,1106.8 1349.0,1114.9 1359.2,1120.5 C1369.5,1126.1 1384.6,1133.0 1394.5,1137.7 C1404.4,1142.4 1414.4,1146.8 1418.4,1148.6" fill="none" stroke="#636363" stroke-width="2.61" stroke-linejoin="round" stroke-linecap="round" /><path d="M1333.0,1104.0 C1337.4,1106.8 1349.0,1114.9 1359.2,1120.5 C1369.5,1126.1 1384.6,1133.0 1394.5,1137.7 C1404.4,1142.4 1414.4,1146.8 1418.4,1148.6" fill="none" stroke="#f7f7f7" stroke-width="0.522" stroke-linejoin="round" stroke-linecap="round" />
<path d="M1479.8,1139.9 Q1489.0,1143.7 1489.1,1147.7 L1490.5,1194.5" fill="none" stroke="#8c8c8c" stroke-width="2.9" stroke-linejoin="round" stroke-linecap="round" /><path d="M1479.8,1139.9 Q1489.0,1143.7 1489.1,1147.7 L1490.5,1194.5" fill="none" stroke="#f7f7f7" stroke-width="1.044" stroke-linejoin="round" stroke-linecap="round" /><path d="M1390.0,1096.5 C1394.5,1099.1 1406.2,1106.7 1417.0,1112.2 C1427.8,1117.7 1444.0,1124.9 1454.5,1129.5 C1465.0,1134.1 1475.5,1138.2 1479.8,1139.9" fill="none" stroke="#636363" stroke-width="2.61" stroke-linejoin="round" stroke-linecap="round" /><path d="M1390.0,1096.5 C1394.5,1099.1 1406.2,1106.7 1417.0,1112.2 C1427.8,1117.7 1444.0,1124.9 1454.5,1129.5 C1465.0,1134.1 1475.5,1138.2 1479.8,1139.9" fill="none" stroke="#f7f7f7" stroke-width="0.522" stroke-linejoin="round" stroke-linecap="round" />
<path d="M1538.0,1130.8 Q1547.5,1134.0 1547.5,1138.0 L1548.0,1184.0" fill="none" stroke="#8c8c8c" stroke-width="2.9" stroke-linejoin="round" stroke-linecap="round" /><path d="M1538.0,1130.8 Q1547.5,1134.0 1547.5,1138.0 L1548.0,1184.0" fill="none" stroke="#f7f7f7" stroke-width="1.044" stroke-linejoin="round" stroke-linecap="round" /><path d="M1444.0,1089.7 C1448.5,1092.3 1460.1,1100.0 1471.2,1105.3 C1482.3,1110.6 1499.3,1117.2 1510.4,1121.4 C1521.5,1125.6 1533.4,1129.2 1538.0,1130.8" fill="none" stroke="#636363" stroke-width="2.61" stroke-linejoin="round" stroke-linecap="round" /><path d="M1444.0,1089.7 C1448.5,1092.3 1460.1,1100.0 1471.2,1105.3 C1482.3,1110.6 1499.3,1117.2 1510.4,1121.4 C1521.5,1125.6 1533.4,1129.2 1538.0,1130.8" fill="none" stroke="#f7f7f7" stroke-width="0.522" stroke-linejoin="round" stroke-linecap="round" />
<path d="M1593.9,1124.0 Q1603.3,1127.4 1603.5,1131.4 L1605.2,1174.9" fill="none" stroke="#8c8c8c" stroke-width="2.9" stroke-linejoin="round" stroke-linecap="round" /><path d="M1593.9,1124.0 Q1603.3,1127.4 1603.5,1131.4 L1605.2,1174.9" fill="none" stroke="#f7f7f7" stroke-width="1.044" stroke-linejoin="round" stroke-linecap="round" /><path d="M1496.4,1083.6 C1501.3,1086.0 1514.4,1093.3 1525.8,1098.3 C1537.2,1103.3 1553.7,1109.4 1565.0,1113.7 C1576.3,1118.0 1589.1,1122.3 1593.9,1124.0" fill="none" stroke="#636363" stroke-width="2.61" stroke-linejoin="round" stroke-linecap="round" /><path d="M1496.4,1083.6 C1501.3,1086.0 1514.4,1093.3 1525.8,1098.3 C1537.2,1103.3 1553.7,1109.4 1565.0,1113.7 C1576.3,1118.0 1589.1,1122.3 1593.9,1124.0" fill="none" stroke="#f7f7f7" stroke-width="0.522" stroke-linejoin="round" stroke-linecap="round" />
<path d="M1647.9,1115.1 Q1657.5,1118.0 1657.6,1122.0 L1658.4,1166.5" fill="none" stroke="#8c8c8c" stroke-width="2.9" stroke-linejoin="round" stroke-linecap="round" /><path d="M1647.9,1115.1 Q1657.5,1118.0 1657.6,1122.0 L1658.4,1166.5" fill="none" stroke="#f7f7f7" stroke-width="1.044" stroke-linejoin="round" stroke-linecap="round" /><path d="M1548.2,1077.3 C1553.1,1079.6 1565.9,1086.5 1577.6,1091.3 C1589.3,1096.1 1606.5,1102.0 1618.2,1106.0 C1629.9,1110.0 1643.0,1113.6 1647.9,1115.1" fill="none" stroke="#636363" stroke-width="2.61" stroke-linejoin="round" stroke-linecap="round" /><path d="M1548.2,1077.3 C1553.1,1079.6 1565.9,1086.5 1577.6,1091.3 C1589.3,1096.1 1606.5,1102.0 1618.2,1106.0 C1629.9,1110.0 1643.0,1113.6 1647.9,1115.1" fill="none" stroke="#f7f7f7" stroke-width="0.522" stroke-linejoin="round" stroke-linecap="round" />
<path d="M1700.0,1106.4 Q1709.7,1108.7 1709.8,1112.7 L1710.7,1157.2" fill="none" stroke="#8c8c8c" stroke-width="2.9" stroke-linejoin="round" stroke-linecap="round" /><path d="M1700.0,1106.4 Q1709.7,1108.7 1709.8,1112.7 L1710.7,1157.2" fill="none" stroke="#f7f7f7" stroke-width="1.044" stroke-linejoin="round" stroke-linecap="round" /><path d="M1597.2,1071.0 C1602.1,1073.2 1614.7,1079.6 1626.6,1084.3 C1638.5,1089.0 1656.4,1095.3 1668.6,1099.0 C1680.8,1102.7 1694.7,1105.2 1700.0,1106.4" fill="none" stroke="#636363" stroke-width="2.61" stroke-linejoin="round" stroke-linecap="round" /><path d="M1597.2,1071.0 C1602.1,1073.2 1614.7,1079.6 1626.6,1084.3 C1638.5,1089.0 1656.4,1095.3 1668.6,1099.0 C1680.8,1102.7 1694.7,1105.2 1700.0,1106.4" fill="none" stroke="#f7f7f7" stroke-width="0.522" stroke-linejoin="round" stroke-linecap="round" />
<path d="M1750.3,1098.3 Q1760.1,1100.3 1760.2,1104.3 L1761.0,1148.8" fill="none" stroke="#8c8c8c" stroke-width="2.9" stroke-linejoin="round" stroke-linecap="round" /><path d="M1750.3,1098.3 Q1760.1,1100.3 1760.2,1104.3 L1761.0,1148.8" fill="none" stroke="#f7f7f7" stroke-width="1.044" stroke-linejoin="round" stroke-linecap="round" /><path d="M1646.0,1064.5 C1650.7,1066.6 1662.0,1072.7 1674.2,1077.3 C1686.4,1081.9 1706.3,1088.4 1719.0,1091.9 C1731.7,1095.4 1745.1,1097.2 1750.3,1098.3" fill="none" stroke="#636363" stroke-width="2.61" stroke-linejoin="round" stroke-linecap="round" /><path d="M1646.0,1064.5 C1650.7,1066.6 1662.0,1072.7 1674.2,1077.3 C1686.4,1081.9 1706.3,1088.4 1719.0,1091.9 C1731.7,1095.4 1745.1,1097.2 1750.3,1098.3" fill="none" stroke="#f7f7f7" stroke-width="0.522" stroke-linejoin="round" stroke-linecap="round" />
<path d="M1797.8,1090.2 Q1807.7,1091.9 1807.8,1095.9 L1808.7,1141.3" fill="none" stroke="#8c8c8c" stroke-width="2.9" stroke-linejoin="round" stroke-linecap="round" /><path d="M1797.8,1090.2 Q1807.7,1091.9 1807.8,1095.9 L1808.7,1141.3" fill="none" stroke="#f7f7f7" stroke-width="1.044" stroke-linejoin="round" stroke-linecap="round" /><path d="M1694.0,1057.5 C1698.4,1059.8 1708.8,1066.5 1720.4,1071.0 C1732.1,1075.5 1751.0,1081.3 1763.9,1084.5 C1776.8,1087.7 1792.2,1089.3 1797.8,1090.2" fill="none" stroke="#636363" stroke-width="2.61" stroke-linejoin="round" stroke-linecap="round" /><path d="M1694.0,1057.5 C1698.4,1059.8 1708.8,1066.5 1720.4,1071.0 C1732.1,1075.5 1751.0,1081.3 1763.9,1084.5 C1776.8,1087.7 1792.2,1089.3 1797.8,1090.2" fill="none" stroke="#f7f7f7" stroke-width="0.522" stroke-linejoin="round" stroke-linecap="round" />
<path d="M1394.5,1137.7 Q1424.5,1126.6 1454.5,1129.5" fill="none" stroke="#636363" stroke-width="2.3" stroke-linejoin="round" stroke-linecap="round" /><path d="M1394.5,1137.7 Q1424.5,1126.6 1454.5,1129.5" fill="none" stroke="#f7f7f7" stroke-width="0.414" stroke-linejoin="round" stroke-linecap="round" />
<path d="M1359.2,1120.5 Q1388.1,1109.3 1417.0,1112.2" fill="none" stroke="#636363" stroke-width="2.3" stroke-linejoin="round" stroke-linecap="round" /><path d="M1359.2,1120.5 Q1388.1,1109.3 1417.0,1112.2" fill="none" stroke="#f7f7f7" stroke-width="0.414" stroke-linejoin="round" stroke-linecap="round" />
<path d="M1454.5,1129.5 Q1482.5,1118.5 1510.4,1121.4" fill="none" stroke="#636363" stroke-width="2.3" stroke-linejoin="round" stroke-linecap="round" /><path d="M1454.5,1129.5 Q1482.5,1118.5 1510.4,1121.4" fill="none" stroke="#f7f7f7" stroke-width="0.414" stroke-linejoin="round" stroke-linecap="round" />
<path d="M1417.0,1112.2 Q1444.1,1101.8 1471.2,1105.3" fill="none" stroke="#636363" stroke-width="2.3" stroke-linejoin="round" stroke-linecap="round" /><path d="M1417.0,1112.2 Q1444.1,1101.8 1471.2,1105.3" fill="none" stroke="#f7f7f7" stroke-width="0.414" stroke-linejoin="round" stroke-linecap="round" />
<path d="M1510.4,1121.4 Q1537.7,1110.6 1565.0,1113.7" fill="none" stroke="#636363" stroke-width="2.3" stroke-linejoin="round" stroke-linecap="round" /><path d="M1510.4,1121.4 Q1537.7,1110.6 1565.0,1113.7" fill="none" stroke="#f7f7f7" stroke-width="0.414" stroke-linejoin="round" stroke-linecap="round" />
<path d="M1471.2,1105.3 Q1498.5,1094.8 1525.8,1098.3" fill="none" stroke="#636363" stroke-width="2.3" stroke-linejoin="round" stroke-linecap="round" /><path d="M1471.2,1105.3 Q1498.5,1094.8 1525.8,1098.3" fill="none" stroke="#f7f7f7" stroke-width="0.414" stroke-linejoin="round" stroke-linecap="round" />
<path d="M1565.0,1113.7 Q1591.6,1102.8 1618.2,1106.0" fill="none" stroke="#636363" stroke-width="2.3" stroke-linejoin="round" stroke-linecap="round" /><path d="M1565.0,1113.7 Q1591.6,1102.8 1618.2,1106.0" fill="none" stroke="#f7f7f7" stroke-width="0.414" stroke-linejoin="round" stroke-linecap="round" />
<path d="M1525.8,1098.3 Q1551.7,1087.8 1577.6,1091.3" fill="none" stroke="#636363" stroke-width="2.3" stroke-linejoin="round" stroke-linecap="round" /><path d="M1525.8,1098.3 Q1551.7,1087.8 1577.6,1091.3" fill="none" stroke="#f7f7f7" stroke-width="0.414" stroke-linejoin="round" stroke-linecap="round" />
<path d="M1618.2,1106.0 Q1643.4,1095.5 1668.6,1099.0" fill="none" stroke="#636363" stroke-width="2.3" stroke-linejoin="round" stroke-linecap="round" /><path d="M1618.2,1106.0 Q1643.4,1095.5 1668.6,1099.0" fill="none" stroke="#f7f7f7" stroke-width="0.414" stroke-linejoin="round" stroke-linecap="round" />
<path d="M1577.6,1091.3 Q1602.1,1080.8 1626.6,1084.3" fill="none" stroke="#636363" stroke-width="2.3" stroke-linejoin="round" stroke-linecap="round" /><path d="M1577.6,1091.3 Q1602.1,1080.8 1626.6,1084.3" fill="none" stroke="#f7f7f7" stroke-width="0.414" stroke-linejoin="round" stroke-linecap="round" />
<path d="M1668.6,1099.0 Q1693.8,1088.5 1719.0,1091.9" fill="none" stroke="#636363" stroke-width="2.3" stroke-linejoin="round" stroke-linecap="round" /><path d="M1668.6,1099.0 Q1693.8,1088.5 1719.0,1091.9" fill="none" stroke="#f7f7f7" stroke-width="0.414" stroke-linejoin="round" stroke-linecap="round" />
<path d="M1626.6,1084.3 Q1650.4,1073.8 1674.2,1077.3" fill="none" stroke="#636363" stroke-width="2.3" stroke-linejoin="round" stroke-linecap="round" /><path d="M1626.6,1084.3 Q1650.4,1073.8 1674.2,1077.3" fill="none" stroke="#f7f7f7" stroke-width="0.414" stroke-linejoin="round" stroke-linecap="round" />
<path d="M1719.0,1091.9 Q1741.5,1081.2 1763.9,1084.5" fill="none" stroke="#636363" stroke-width="2.3" stroke-linejoin="round" stroke-linecap="round" /><path d="M1719.0,1091.9 Q1741.5,1081.2 1763.9,1084.5" fill="none" stroke="#f7f7f7" stroke-width="0.414" stroke-linejoin="round" stroke-linecap="round" />
<path d="M1674.2,1077.3 Q1697.3,1067.2 1720.4,1071.0" fill="none" stroke="#636363" stroke-width="2.3" stroke-linejoin="round" stroke-linecap="round" /><path d="M1674.2,1077.3 Q1697.3,1067.2 1720.4,1071.0" fill="none" stroke="#f7f7f7" stroke-width="0.414" stroke-linejoin="round" stroke-linecap="round" />
<path d="M1334.5,1144.5 Q1364.5,1136.1 1394.5,1137.7" fill="none" stroke="#636363" stroke-width="2.3" stroke-linejoin="round" stroke-linecap="round" /><path d="M1334.5,1144.5 Q1364.5,1136.1 1394.5,1137.7" fill="none" stroke="#f7f7f7" stroke-width="0.414" stroke-linejoin="round" stroke-linecap="round" />
<path d="M1300.0,1124.5 Q1329.6,1117.5 1359.2,1120.5" fill="none" stroke="#636363" stroke-width="2.3" stroke-linejoin="round" stroke-linecap="round" /><path d="M1300.0,1124.5 Q1329.6,1117.5 1359.2,1120.5" fill="none" stroke="#f7f7f7" stroke-width="0.414" stroke-linejoin="round" stroke-linecap="round" />
<path d="M1763.9,1084.5 Q1785.3,1075.8 1806.8,1077.0" fill="none" stroke="#636363" stroke-width="2.3" stroke-linejoin="round" stroke-linecap="round" /><path d="M1763.9,1084.5 Q1785.3,1075.8 1806.8,1077.0" fill="none" stroke="#f7f7f7" stroke-width="0.414" stroke-linejoin="round" stroke-linecap="round" />
<path d="M1720.4,1071.0 Q1736.2,1062.0 1752.0,1061.0" fill="none" stroke="#636363" stroke-width="2.3" stroke-linejoin="round" stroke-linecap="round" /><path d="M1720.4,1071.0 Q1736.2,1062.0 1752.0,1061.0" fill="none" stroke="#f7f7f7" stroke-width="0.414" stroke-linejoin="round" stroke-linecap="round" />
<path d="M1291.8,1108.2 L1722.4,1053.6" fill="none" stroke="#111" stroke-width="1.4080000000000001" stroke-linejoin="round" stroke-linecap="round" />
<polygon points="1159.0,1040.9 1252.2,1088.9 1256.0,1241.5 1165.4,1175.7" fill="url(#armo)" />
<polygon points="1252.2,1088.9 1288.2,1084.9 1294.2,1237.3 1255.0,1242.9" fill="#efefef" />
<path d="M1253.0,1089.5 L1255.5,1240.5" fill="none" stroke="#e2e2e2" stroke-width="1.0" stroke-linejoin="round" stroke-linecap="round" />
<path d="M1159.0,1040.9 L1161.8,1098.5 L1165.4,1171.5 Q1165.8,1176.5 1170.0,1179.3 L1251.0,1240.5 Q1255.0,1243.5 1260.0,1242.9 L1294.2,1237.3" fill="none" stroke="#111" stroke-width="1.584" stroke-linejoin="round" stroke-linecap="round" />
<path d="M1288.2,1082.5 L1290.4,1158.5 L1294.2,1237.3" fill="none" stroke="#111" stroke-width="2.112" stroke-linejoin="round" stroke-linecap="round" />
<polygon points="1160.2,1037.3 1192.6,1034.1 1287.4,1080.1 1288.2,1084.9 1252.2,1088.9 1159.0,1040.9" fill="#fbfbfb" />
<path d="M1160.2,1037.3 L1192.6,1034.1 L1287.4,1080.1" fill="none" stroke="#111" stroke-width="1.584" stroke-linejoin="round" stroke-linecap="round" />
<path d="M1160.2,1038.5 L1251.4,1084.9 L1287.4,1081.0" fill="none" stroke="#888" stroke-width="1.1" stroke-linejoin="round" stroke-linecap="round" />
<path d="M1159.0,1040.9 L1252.2,1088.9 L1288.2,1084.9" fill="none" stroke="#111" stroke-width="1.32" stroke-linejoin="round" stroke-linecap="round" />
<ellipse cx="1270.4" cy="1244.3" rx="7.4" ry="2.6" fill="#e6e6e6" stroke="#333" stroke-width="1"/>
<path d="M66.2,85.7 V50 Q61,55.5 54,57.5 V51.5 Q63.5,47.5 68.5,40.2 H71.8 V85.7 Z" fill="#2a2a2a"/>
</svg>
<div class="num" style="left:1000px;top:1px">2</div>
<div class="num" style="left:0;top:750px">3</div>
<div class="num" style="left:1000px;top:750px">4</div>
</body></html>
